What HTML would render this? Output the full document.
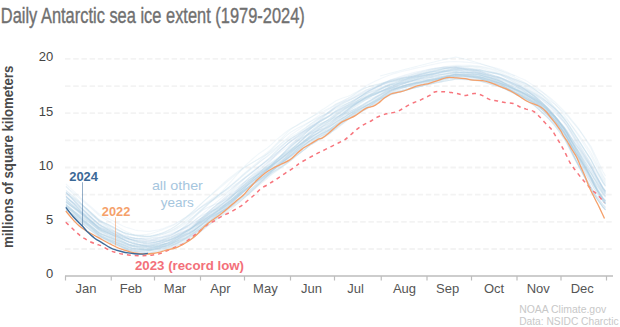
<!DOCTYPE html>
<html><head><meta charset="utf-8"><style>html,body{margin:0;padding:0;background:#fff;width:620px;height:327px;overflow:hidden}</style></head>
<body><svg width="620" height="327" viewBox="0 0 620 327" style="display:block">
<text x="0.8" y="23.2" font-family="Liberation Sans, sans-serif" font-size="22.5" fill="#707070" stroke="#707070" stroke-width="0.4" textLength="304" lengthAdjust="spacingAndGlyphs">Daily Antarctic sea ice extent (1979-2024)</text>
<text transform="translate(12.6,248) rotate(-90)" x="0" y="0" font-family="Liberation Sans, sans-serif" font-size="14" font-weight="bold" fill="#4a4a4a" textLength="182.3" lengthAdjust="spacingAndGlyphs">millions of square kilometers</text>
<line x1="65" y1="249.0" x2="613" y2="249.0" stroke="#f3f3f3" stroke-width="1.8" stroke-dasharray="5.5,2.7"/>
<line x1="65" y1="221.8" x2="613" y2="221.8" stroke="#f3f3f3" stroke-width="1.8" stroke-dasharray="5.5,2.7"/>
<line x1="65" y1="194.7" x2="613" y2="194.7" stroke="#f3f3f3" stroke-width="1.8" stroke-dasharray="5.5,2.7"/>
<line x1="65" y1="167.5" x2="613" y2="167.5" stroke="#f3f3f3" stroke-width="1.8" stroke-dasharray="5.5,2.7"/>
<line x1="65" y1="140.4" x2="613" y2="140.4" stroke="#f3f3f3" stroke-width="1.8" stroke-dasharray="5.5,2.7"/>
<line x1="65" y1="113.2" x2="613" y2="113.2" stroke="#f3f3f3" stroke-width="1.8" stroke-dasharray="5.5,2.7"/>
<line x1="65" y1="86.1" x2="613" y2="86.1" stroke="#f3f3f3" stroke-width="1.8" stroke-dasharray="5.5,2.7"/>
<line x1="65" y1="58.9" x2="613" y2="58.9" stroke="#f3f3f3" stroke-width="1.8" stroke-dasharray="5.5,2.7"/>
<text x="53.2" y="278.4" font-family="Liberation Sans, sans-serif" font-size="13" fill="#444" text-anchor="end">0</text>
<text x="53.2" y="224.1" font-family="Liberation Sans, sans-serif" font-size="13" fill="#444" text-anchor="end">5</text>
<text x="53.2" y="169.8" font-family="Liberation Sans, sans-serif" font-size="13" fill="#444" text-anchor="end">10</text>
<text x="53.2" y="115.5" font-family="Liberation Sans, sans-serif" font-size="13" fill="#444" text-anchor="end">15</text>
<text x="53.2" y="61.2" font-family="Liberation Sans, sans-serif" font-size="13" fill="#444" text-anchor="end">20</text>
<g fill="none" stroke="#a9cbe2" stroke-width="1.1" stroke-opacity="0.21">
<path d="M66.0,184.0 L69.0,186.8 L72.0,189.6 L75.0,192.4 L78.0,195.2 L81.0,198.1 L84.0,200.7 L87.0,203.3 L90.0,205.9 L93.0,208.5 L96.0,211.1 L99.0,213.7 L102.0,215.6 L105.0,217.1 L108.0,218.6 L111.0,220.1 L114.0,221.6 L117.0,223.1 L120.0,224.6 L123.0,226.1 L126.0,227.3 L129.0,228.1 L132.0,229.0 L135.0,230.0 L138.0,230.6 L141.0,230.8 L144.0,231.1 L147.0,231.4 L150.0,231.4 L153.0,230.8 L156.0,230.2 L159.0,229.7 L162.0,228.9 L165.0,227.8 L168.0,226.6 L171.0,225.5 L174.0,224.3 L177.0,222.6 L180.0,220.9 L183.0,219.0 L186.0,217.1 L189.0,215.2 L192.0,213.3 L195.0,211.2 L198.0,209.1 L201.0,207.1 L204.0,205.1 L207.0,203.2 L210.0,201.1 L213.0,199.1 L216.0,197.1 L219.0,195.0 L222.0,192.8 L225.0,190.5 L228.0,188.2 L231.0,185.7 L234.0,183.1 L237.0,180.5 L240.0,177.9 L243.0,175.2 L246.0,172.7 L249.0,170.3 L252.0,167.9 L255.0,165.6 L258.0,163.2 L261.0,160.8 L264.0,158.5 L267.0,156.1 L270.0,153.6 L273.0,150.8 L276.0,148.1 L279.0,145.4 L282.0,142.7 L285.0,140.0 L288.0,137.3 L291.0,134.8 L294.0,132.8 L297.0,130.7 L300.0,128.7 L303.0,126.6 L306.0,124.6 L309.0,122.5 L312.0,120.4 L315.0,118.3 L318.0,116.2 L321.0,114.2 L324.0,112.3 L327.0,110.4 L330.0,108.5 L333.0,106.4 L336.0,104.2 L339.0,102.7 L342.0,101.2 L345.0,99.7 L348.0,98.3 L351.0,96.6 L354.0,94.5 L357.0,92.4 L360.0,90.3 L363.0,88.2 L366.0,86.0 L369.0,84.3 L372.0,82.8 L375.0,81.3 L378.0,79.9 L381.0,78.5 L384.0,77.2 L387.0,76.0 L390.0,74.9 L393.0,73.9 L396.0,73.1 L399.0,72.3 L402.0,71.5 L405.0,70.8 L408.0,70.1 L411.0,69.4 L414.0,68.6 L417.0,67.9 L420.0,67.3 L423.0,66.6 L426.0,65.9 L429.0,65.2 L432.0,64.6 L435.0,64.0 L438.0,63.4 L441.0,62.8 L444.0,62.2 L447.0,61.9 L450.0,61.8 L453.0,61.6 L456.0,61.5 L459.0,61.7 L462.0,61.9 L465.0,62.1 L468.0,62.4 L471.0,62.6 L474.0,63.1 L477.0,63.5 L480.0,64.0 L483.0,64.8 L486.0,65.5 L489.0,66.2 L492.0,67.0 L495.0,67.8 L498.0,68.5 L501.0,69.4 L504.0,70.8 L507.0,72.1 L510.0,73.4 L513.0,74.7 L516.0,76.0 L519.0,77.4 L522.0,78.7 L525.0,80.0 L528.0,81.9 L531.0,83.9 L534.0,85.8 L537.0,87.8 L540.0,90.0 L543.0,92.5 L546.0,95.3 L549.0,98.2 L552.0,101.1 L555.0,104.1 L558.0,107.6 L561.0,111.1 L564.0,114.7 L567.0,118.5 L570.0,123.0 L573.0,127.6 L576.0,132.2 L579.0,136.7 L582.0,141.4 L585.0,146.1 L588.0,150.7 L591.0,155.4 L594.0,161.5 L597.0,167.3 L600.0,173.0 L603.0,178.7 L605.5,182.4" stroke-opacity="0.15"/>
<path d="M66.0,186.4 L69.0,189.6 L72.0,193.0 L75.0,196.3 L78.0,199.7 L81.0,203.1 L84.0,206.3 L87.0,209.5 L90.0,212.7 L93.0,215.8 L96.0,218.9 L99.0,221.9 L102.0,224.2 L105.0,226.0 L108.0,227.7 L111.0,229.3 L114.0,230.8 L117.0,232.3 L120.0,233.7 L123.0,235.1 L126.0,236.2 L129.0,237.1 L132.0,237.7 L135.0,238.1 L138.0,238.3 L141.0,238.3 L144.0,238.3 L147.0,238.3 L150.0,238.1 L153.0,237.2 L156.0,236.4 L159.0,235.5 L162.0,234.6 L165.0,233.4 L168.0,232.2 L171.0,230.9 L174.0,229.5 L177.0,227.7 L180.0,225.9 L183.0,223.9 L186.0,222.0 L189.0,220.0 L192.0,217.8 L195.0,215.3 L198.0,212.9 L201.0,210.4 L204.0,207.9 L207.0,205.3 L210.0,202.6 L213.0,200.0 L216.0,197.2 L219.0,194.4 L222.0,191.4 L225.0,188.2 L228.0,184.9 L231.0,181.6 L234.0,178.2 L237.0,174.8 L240.0,171.4 L243.0,168.0 L246.0,164.9 L249.0,162.1 L252.0,159.5 L255.0,156.9 L258.0,154.4 L261.0,152.3 L264.0,150.2 L267.0,148.1 L270.0,145.8 L273.0,142.9 L276.0,140.1 L279.0,137.6 L282.0,135.2 L285.0,132.8 L288.0,130.5 L291.0,128.4 L294.0,126.9 L297.0,125.4 L300.0,123.8 L303.0,122.1 L306.0,120.4 L309.0,118.6 L312.0,116.6 L315.0,114.6 L318.0,112.5 L321.0,110.5 L324.0,108.7 L327.0,106.8 L330.0,104.8 L333.0,102.8 L336.0,100.7 L339.0,99.5 L342.0,98.3 L345.0,97.2 L348.0,96.2 L351.0,94.9 L354.0,93.3 L357.0,91.7 L360.0,90.2 L363.0,88.7 L366.0,87.4 L369.0,86.5 L372.0,85.8 L375.0,85.1 L378.0,84.5 L381.0,83.8 L384.0,83.1 L387.0,82.5 L390.0,81.8 L393.0,81.4 L396.0,81.0 L399.0,80.6 L402.0,80.1 L405.0,79.5 L408.0,78.9 L411.0,78.3 L414.0,77.6 L417.0,76.9 L420.0,76.1 L423.0,75.3 L426.0,74.4 L429.0,73.5 L432.0,72.6 L435.0,71.7 L438.0,70.8 L441.0,69.8 L444.0,68.9 L447.0,68.1 L450.0,67.5 L453.0,67.0 L456.0,66.4 L459.0,66.4 L462.0,66.5 L465.0,66.5 L468.0,66.6 L471.0,66.8 L474.0,67.2 L477.0,67.6 L480.0,68.0 L483.0,68.8 L486.0,69.6 L489.0,70.5 L492.0,71.3 L495.0,72.1 L498.0,72.9 L501.0,73.9 L504.0,75.2 L507.0,76.5 L510.0,77.7 L513.0,78.9 L516.0,80.0 L519.0,81.1 L522.0,82.2 L525.0,83.2 L528.0,84.8 L531.0,86.3 L534.0,87.8 L537.0,89.4 L540.0,90.9 L543.0,92.7 L546.0,94.8 L549.0,97.0 L552.0,99.5 L555.0,102.0 L558.0,105.0 L561.0,108.0 L564.0,111.0 L567.0,114.0 L570.0,117.8 L573.0,121.5 L576.0,125.2 L579.0,129.1 L582.0,133.8 L585.0,138.5 L588.0,143.5 L591.0,148.5 L594.0,155.3 L597.0,162.1 L600.0,168.7 L603.0,175.2 L605.5,179.6" stroke-opacity="0.16"/>
<path d="M66.0,192.6 L69.0,194.9 L72.0,197.2 L75.0,199.5 L78.0,201.8 L81.0,204.2 L84.0,206.6 L87.0,208.9 L90.0,211.4 L93.0,214.0 L96.0,216.6 L99.0,219.3 L102.0,221.3 L105.0,223.0 L108.0,224.6 L111.0,226.2 L114.0,227.8 L117.0,229.3 L120.0,230.7 L123.0,232.1 L126.0,233.1 L129.0,233.9 L132.0,234.4 L135.0,234.7 L138.0,234.9 L141.0,234.7 L144.0,234.5 L147.0,234.4 L150.0,233.9 L153.0,232.9 L156.0,232.0 L159.0,231.1 L162.0,230.1 L165.0,228.8 L168.0,227.5 L171.0,226.3 L174.0,224.9 L177.0,223.1 L180.0,221.3 L183.0,219.1 L186.0,217.0 L189.0,214.7 L192.0,212.2 L195.0,209.6 L198.0,206.8 L201.0,204.0 L204.0,201.2 L207.0,198.4 L210.0,195.6 L213.0,192.9 L216.0,190.1 L219.0,187.4 L222.0,184.7 L225.0,182.0 L228.0,179.4 L231.0,176.9 L234.0,174.6 L237.0,172.3 L240.0,170.2 L243.0,168.1 L246.0,166.2 L249.0,164.6 L252.0,162.8 L255.0,161.0 L258.0,159.1 L261.0,157.1 L264.0,155.0 L267.0,152.7 L270.0,150.2 L273.0,147.2 L276.0,144.2 L279.0,141.1 L282.0,138.0 L285.0,134.9 L288.0,131.9 L291.0,129.2 L294.0,127.1 L297.0,125.2 L300.0,123.3 L303.0,121.6 L306.0,120.0 L309.0,118.3 L312.0,116.7 L315.0,115.1 L318.0,113.5 L321.0,112.1 L324.0,110.8 L327.0,109.3 L330.0,107.8 L333.0,106.0 L336.0,104.1 L339.0,102.8 L342.0,101.4 L345.0,100.0 L348.0,98.6 L351.0,97.0 L354.0,95.0 L357.0,93.1 L360.0,91.3 L363.0,89.5 L366.0,87.8 L369.0,86.7 L372.0,85.8 L375.0,84.9 L378.0,84.1 L381.0,83.3 L384.0,82.5 L387.0,81.7 L390.0,81.0 L393.0,80.5 L396.0,79.9 L399.0,79.2 L402.0,78.5 L405.0,77.8 L408.0,77.0 L411.0,76.1 L414.0,75.2 L417.0,74.3 L420.0,73.4 L423.0,72.5 L426.0,71.6 L429.0,70.8 L432.0,70.0 L435.0,69.4 L438.0,68.9 L441.0,68.4 L444.0,67.9 L447.0,67.8 L450.0,67.7 L453.0,67.7 L456.0,67.7 L459.0,68.1 L462.0,68.5 L465.0,68.9 L468.0,69.2 L471.0,69.5 L474.0,69.9 L477.0,70.2 L480.0,70.4 L483.0,71.0 L486.0,71.5 L489.0,72.0 L492.0,72.6 L495.0,73.1 L498.0,73.7 L501.0,74.5 L504.0,75.7 L507.0,77.0 L510.0,78.4 L513.0,79.8 L516.0,81.2 L519.0,82.8 L522.0,84.4 L525.0,86.0 L528.0,88.1 L531.0,90.1 L534.0,92.1 L537.0,94.3 L540.0,96.5 L543.0,98.7 L546.0,101.1 L549.0,103.6 L552.0,106.0 L555.0,108.3 L558.0,111.1 L561.0,114.0 L564.0,116.8 L567.0,119.8 L570.0,123.5 L573.0,127.3 L576.0,131.2 L579.0,135.1 L582.0,139.3 L585.0,143.6 L588.0,148.1 L591.0,152.7 L594.0,159.0 L597.0,165.1 L600.0,171.0 L603.0,176.9 L605.5,180.7" stroke-opacity="0.16"/>
<path d="M66.0,192.8 L69.0,195.4 L72.0,197.9 L75.0,200.5 L78.0,203.0 L81.0,205.6 L84.0,208.0 L87.0,210.4 L90.0,212.9 L93.0,215.3 L96.0,217.7 L99.0,220.2 L102.0,221.9 L105.0,223.3 L108.0,224.7 L111.0,226.1 L114.0,227.6 L117.0,229.0 L120.0,230.4 L123.0,231.9 L126.0,233.1 L129.0,234.1 L132.0,234.9 L135.0,235.7 L138.0,236.2 L141.0,236.4 L144.0,236.6 L147.0,236.8 L150.0,236.7 L153.0,236.0 L156.0,235.1 L159.0,234.3 L162.0,233.3 L165.0,231.9 L168.0,230.5 L171.0,229.0 L174.0,227.2 L177.0,225.0 L180.0,222.7 L183.0,220.1 L186.0,217.6 L189.0,214.9 L192.0,212.2 L195.0,209.4 L198.0,206.5 L201.0,203.8 L204.0,201.2 L207.0,198.6 L210.0,196.0 L213.0,193.5 L216.0,191.0 L219.0,188.6 L222.0,186.1 L225.0,183.5 L228.0,181.0 L231.0,178.5 L234.0,176.0 L237.0,173.6 L240.0,171.2 L243.0,168.8 L246.0,166.8 L249.0,164.9 L252.0,163.1 L255.0,161.3 L258.0,159.5 L261.0,157.7 L264.0,156.0 L267.0,154.2 L270.0,152.2 L273.0,150.0 L276.0,147.7 L279.0,145.5 L282.0,143.3 L285.0,141.0 L288.0,138.8 L291.0,136.7 L294.0,134.9 L297.0,133.1 L300.0,131.2 L303.0,129.3 L306.0,127.4 L309.0,125.3 L312.0,123.3 L315.0,121.3 L318.0,119.3 L321.0,117.4 L324.0,115.5 L327.0,113.7 L330.0,111.8 L333.0,109.6 L336.0,107.4 L339.0,105.8 L342.0,104.3 L345.0,102.8 L348.0,101.3 L351.0,99.6 L354.0,97.8 L357.0,95.9 L360.0,94.0 L363.0,92.2 L366.0,90.3 L369.0,88.9 L372.0,87.6 L375.0,86.3 L378.0,85.0 L381.0,83.8 L384.0,82.5 L387.0,81.4 L390.0,80.3 L393.0,79.5 L396.0,78.7 L399.0,77.9 L402.0,77.1 L405.0,76.3 L408.0,75.6 L411.0,74.8 L414.0,74.1 L417.0,73.4 L420.0,72.7 L423.0,71.9 L426.0,71.2 L429.0,70.4 L432.0,69.7 L435.0,69.0 L438.0,68.3 L441.0,67.6 L444.0,66.9 L447.0,66.4 L450.0,66.0 L453.0,65.6 L456.0,65.2 L459.0,65.2 L462.0,65.3 L465.0,65.3 L468.0,65.3 L471.0,65.4 L474.0,65.7 L477.0,65.9 L480.0,66.2 L483.0,66.8 L486.0,67.4 L489.0,68.1 L492.0,68.8 L495.0,69.4 L498.0,70.2 L501.0,71.1 L504.0,72.4 L507.0,73.8 L510.0,75.2 L513.0,76.6 L516.0,78.0 L519.0,79.5 L522.0,81.0 L525.0,82.6 L528.0,84.7 L531.0,86.8 L534.0,89.0 L537.0,91.3 L540.0,93.6 L543.0,96.2 L546.0,99.1 L549.0,102.0 L552.0,105.1 L555.0,108.1 L558.0,111.7 L561.0,115.4 L564.0,119.1 L567.0,123.1 L570.0,127.8 L573.0,132.6 L576.0,137.3 L579.0,141.8 L582.0,146.5 L585.0,151.1 L588.0,155.7 L591.0,160.3 L594.0,166.1 L597.0,171.6 L600.0,176.9 L603.0,182.2 L605.5,185.7" stroke-opacity="0.16"/>
<path d="M66.0,186.5 L69.0,189.1 L72.0,191.6 L75.0,194.2 L78.0,196.8 L81.0,199.5 L84.0,202.0 L87.0,204.6 L90.0,207.2 L93.0,209.8 L96.0,212.5 L99.0,215.2 L102.0,217.3 L105.0,219.1 L108.0,220.8 L111.0,222.6 L114.0,224.5 L117.0,226.3 L120.0,228.1 L123.0,229.9 L126.0,231.5 L129.0,232.7 L132.0,233.9 L135.0,234.9 L138.0,235.6 L141.0,235.9 L144.0,236.3 L147.0,236.6 L150.0,236.5 L153.0,235.8 L156.0,235.0 L159.0,234.1 L162.0,233.1 L165.0,231.7 L168.0,230.3 L171.0,228.8 L174.0,227.1 L177.0,225.0 L180.0,222.9 L183.0,220.7 L186.0,218.4 L189.0,216.3 L192.0,214.0 L195.0,211.8 L198.0,209.6 L201.0,207.5 L204.0,205.6 L207.0,203.8 L210.0,202.0 L213.0,200.2 L216.0,198.5 L219.0,196.8 L222.0,195.0 L225.0,193.1 L228.0,191.1 L231.0,189.1 L234.0,186.8 L237.0,184.5 L240.0,182.1 L243.0,179.7 L246.0,177.2 L249.0,174.9 L252.0,172.5 L255.0,170.0 L258.0,167.5 L261.0,165.0 L264.0,162.5 L267.0,159.9 L270.0,157.3 L273.0,154.5 L276.0,151.7 L279.0,149.0 L282.0,146.3 L285.0,143.7 L288.0,141.1 L291.0,138.8 L294.0,136.8 L297.0,134.9 L300.0,133.0 L303.0,131.2 L306.0,129.4 L309.0,127.6 L312.0,125.8 L315.0,124.2 L318.0,122.6 L321.0,121.0 L324.0,119.6 L327.0,118.0 L330.0,116.4 L333.0,114.4 L336.0,112.2 L339.0,110.5 L342.0,108.8 L345.0,107.0 L348.0,105.2 L351.0,103.3 L354.0,101.2 L357.0,99.2 L360.0,97.1 L363.0,95.0 L366.0,93.0 L369.0,91.2 L372.0,89.6 L375.0,88.1 L378.0,86.6 L381.0,85.2 L384.0,83.8 L387.0,82.5 L390.0,81.4 L393.0,80.6 L396.0,79.8 L399.0,79.1 L402.0,78.4 L405.0,77.7 L408.0,77.1 L411.0,76.4 L414.0,75.8 L417.0,75.2 L420.0,74.6 L423.0,73.9 L426.0,73.2 L429.0,72.5 L432.0,71.8 L435.0,71.1 L438.0,70.3 L441.0,69.5 L444.0,68.7 L447.0,68.1 L450.0,67.5 L453.0,66.9 L456.0,66.4 L459.0,66.3 L462.0,66.2 L465.0,66.2 L468.0,66.1 L471.0,66.2 L474.0,66.4 L477.0,66.6 L480.0,66.9 L483.0,67.6 L486.0,68.3 L489.0,69.0 L492.0,69.8 L495.0,70.6 L498.0,71.5 L501.0,72.5 L504.0,74.0 L507.0,75.4 L510.0,76.9 L513.0,78.4 L516.0,79.8 L519.0,81.2 L522.0,82.6 L525.0,84.1 L528.0,85.9 L531.0,87.8 L534.0,89.5 L537.0,91.4 L540.0,93.3 L543.0,95.3 L546.0,97.6 L549.0,99.9 L552.0,102.2 L555.0,104.4 L558.0,107.2 L561.0,109.9 L564.0,112.7 L567.0,115.5 L570.0,119.0 L573.0,122.6 L576.0,126.2 L579.0,129.9 L582.0,133.9 L585.0,138.0 L588.0,142.2 L591.0,146.5 L594.0,152.8 L597.0,159.1 L600.0,165.4 L603.0,171.7 L605.5,176.0" stroke-opacity="0.17"/>
<path d="M66.0,192.3 L69.0,194.8 L72.0,197.2 L75.0,199.6 L78.0,202.1 L81.0,204.5 L84.0,206.9 L87.0,209.3 L90.0,211.8 L93.0,214.4 L96.0,217.1 L99.0,219.8 L102.0,221.8 L105.0,223.4 L108.0,225.0 L111.0,226.6 L114.0,228.2 L117.0,229.7 L120.0,231.1 L123.0,232.5 L126.0,233.5 L129.0,234.3 L132.0,234.9 L135.0,235.4 L138.0,235.7 L141.0,235.8 L144.0,235.9 L147.0,236.0 L150.0,236.0 L153.0,235.3 L156.0,234.7 L159.0,234.1 L162.0,233.4 L165.0,232.4 L168.0,231.4 L171.0,230.3 L174.0,228.9 L177.0,227.0 L180.0,225.1 L183.0,222.8 L186.0,220.5 L189.0,218.0 L192.0,215.4 L195.0,212.6 L198.0,209.8 L201.0,207.2 L204.0,204.7 L207.0,202.4 L210.0,200.1 L213.0,198.0 L216.0,196.0 L219.0,194.1 L222.0,192.1 L225.0,190.1 L228.0,188.0 L231.0,185.9 L234.0,183.5 L237.0,181.1 L240.0,178.6 L243.0,175.9 L246.0,173.4 L249.0,170.9 L252.0,168.4 L255.0,165.9 L258.0,163.5 L261.0,161.1 L264.0,158.8 L267.0,156.7 L270.0,154.4 L273.0,152.0 L276.0,149.6 L279.0,147.3 L282.0,145.1 L285.0,142.9 L288.0,140.6 L291.0,138.4 L294.0,136.5 L297.0,134.4 L300.0,132.3 L303.0,130.0 L306.0,127.7 L309.0,125.3 L312.0,122.9 L315.0,120.6 L318.0,118.4 L321.0,116.3 L324.0,114.4 L327.0,112.7 L330.0,111.1 L333.0,109.3 L336.0,107.5 L339.0,106.5 L342.0,105.4 L345.0,104.3 L348.0,103.1 L351.0,101.8 L354.0,100.2 L357.0,98.5 L360.0,96.7 L363.0,94.9 L366.0,93.0 L369.0,91.3 L372.0,89.8 L375.0,88.3 L378.0,86.9 L381.0,85.5 L384.0,84.2 L387.0,83.0 L390.0,82.0 L393.0,81.3 L396.0,80.6 L399.0,80.0 L402.0,79.4 L405.0,78.8 L408.0,78.1 L411.0,77.5 L414.0,76.8 L417.0,76.0 L420.0,75.2 L423.0,74.4 L426.0,73.5 L429.0,72.6 L432.0,71.8 L435.0,71.0 L438.0,70.3 L441.0,69.6 L444.0,68.9 L447.0,68.6 L450.0,68.4 L453.0,68.2 L456.0,68.0 L459.0,68.4 L462.0,68.8 L465.0,69.1 L468.0,69.5 L471.0,69.8 L474.0,70.1 L477.0,70.4 L480.0,70.7 L483.0,71.3 L486.0,72.0 L489.0,72.6 L492.0,73.2 L495.0,73.8 L498.0,74.4 L501.0,75.3 L504.0,76.7 L507.0,78.1 L510.0,79.5 L513.0,81.0 L516.0,82.5 L519.0,84.1 L522.0,85.7 L525.0,87.3 L528.0,89.2 L531.0,91.1 L534.0,93.0 L537.0,95.0 L540.0,97.0 L543.0,99.2 L546.0,101.5 L549.0,104.0 L552.0,106.5 L555.0,109.1 L558.0,112.2 L561.0,115.4 L564.0,118.8 L567.0,122.5 L570.0,127.0 L573.0,131.6 L576.0,136.2 L579.0,140.8 L582.0,145.5 L585.0,150.2 L588.0,154.7 L591.0,159.2 L594.0,164.9 L597.0,170.2 L600.0,175.3 L603.0,180.3 L605.5,183.6" stroke-opacity="0.18"/>
<path d="M66.0,190.3 L69.0,192.8 L72.0,195.3 L75.0,198.0 L78.0,200.7 L81.0,203.6 L84.0,206.4 L87.0,209.2 L90.0,212.1 L93.0,215.0 L96.0,217.9 L99.0,220.8 L102.0,222.9 L105.0,224.5 L108.0,226.1 L111.0,227.6 L114.0,229.0 L117.0,230.3 L120.0,231.6 L123.0,232.8 L126.0,233.7 L129.0,234.5 L132.0,235.0 L135.0,235.5 L138.0,235.8 L141.0,235.9 L144.0,236.1 L147.0,236.4 L150.0,236.4 L153.0,235.9 L156.0,235.4 L159.0,235.0 L162.0,234.5 L165.0,233.7 L168.0,232.8 L171.0,231.9 L174.0,230.7 L177.0,229.0 L180.0,227.3 L183.0,225.2 L186.0,223.0 L189.0,220.7 L192.0,218.1 L195.0,215.3 L198.0,212.4 L201.0,209.6 L204.0,206.9 L207.0,204.3 L210.0,201.8 L213.0,199.5 L216.0,197.3 L219.0,195.3 L222.0,193.2 L225.0,191.2 L228.0,189.3 L231.0,187.4 L234.0,185.4 L237.0,183.4 L240.0,181.4 L243.0,179.2 L246.0,177.1 L249.0,175.0 L252.0,172.8 L255.0,170.4 L258.0,167.9 L261.0,165.4 L264.0,162.8 L267.0,160.1 L270.0,157.4 L273.0,154.4 L276.0,151.5 L279.0,148.7 L282.0,146.0 L285.0,143.4 L288.0,140.9 L291.0,138.8 L294.0,137.0 L297.0,135.3 L300.0,133.6 L303.0,131.9 L306.0,130.3 L309.0,128.5 L312.0,126.8 L315.0,125.1 L318.0,123.3 L321.0,121.4 L324.0,119.5 L327.0,117.6 L330.0,115.5 L333.0,113.0 L336.0,110.4 L339.0,108.5 L342.0,106.6 L345.0,104.8 L348.0,103.1 L351.0,101.4 L354.0,99.6 L357.0,97.9 L360.0,96.4 L363.0,94.9 L366.0,93.5 L369.0,92.4 L372.0,91.4 L375.0,90.4 L378.0,89.4 L381.0,88.2 L384.0,87.0 L387.0,85.8 L390.0,84.5 L393.0,83.6 L396.0,82.6 L399.0,81.5 L402.0,80.4 L405.0,79.3 L408.0,78.2 L411.0,77.2 L414.0,76.2 L417.0,75.2 L420.0,74.4 L423.0,73.6 L426.0,72.9 L429.0,72.3 L432.0,71.8 L435.0,71.3 L438.0,71.0 L441.0,70.6 L444.0,70.2 L447.0,70.0 L450.0,69.9 L453.0,69.7 L456.0,69.4 L459.0,69.6 L462.0,69.7 L465.0,69.8 L468.0,69.8 L471.0,69.9 L474.0,70.0 L477.0,70.0 L480.0,70.1 L483.0,70.7 L486.0,71.3 L489.0,71.9 L492.0,72.6 L495.0,73.4 L498.0,74.2 L501.0,75.3 L504.0,76.8 L507.0,78.4 L510.0,80.0 L513.0,81.6 L516.0,83.2 L519.0,84.7 L522.0,86.3 L525.0,87.9 L528.0,89.7 L531.0,91.5 L534.0,93.3 L537.0,95.2 L540.0,97.1 L543.0,99.1 L546.0,101.4 L549.0,103.7 L552.0,106.2 L555.0,108.6 L558.0,111.7 L561.0,114.9 L564.0,118.2 L567.0,121.8 L570.0,126.3 L573.0,131.0 L576.0,135.7 L579.0,140.3 L582.0,145.2 L585.0,150.1 L588.0,155.0 L591.0,159.8 L594.0,165.8 L597.0,171.4 L600.0,176.6 L603.0,181.8 L605.5,185.1" stroke-opacity="0.18"/>
<path d="M66.0,191.8 L69.0,195.1 L72.0,198.3 L75.0,201.5 L78.0,204.7 L81.0,207.8 L84.0,210.7 L87.0,213.6 L90.0,216.4 L93.0,219.1 L96.0,221.8 L99.0,224.5 L102.0,226.3 L105.0,227.8 L108.0,229.2 L111.0,230.6 L114.0,232.0 L117.0,233.5 L120.0,234.9 L123.0,236.4 L126.0,237.7 L129.0,239.0 L132.0,239.9 L135.0,240.7 L138.0,241.3 L141.0,241.8 L144.0,242.2 L147.0,242.7 L150.0,243.0 L153.0,242.4 L156.0,241.9 L159.0,241.3 L162.0,240.5 L165.0,239.4 L168.0,238.3 L171.0,236.9 L174.0,235.1 L177.0,233.0 L180.0,230.8 L183.0,228.3 L186.0,225.8 L189.0,223.2 L192.0,220.2 L195.0,217.1 L198.0,214.0 L201.0,211.0 L204.0,208.2 L207.0,205.4 L210.0,202.7 L213.0,200.2 L216.0,197.7 L219.0,195.2 L222.0,192.7 L225.0,190.2 L228.0,187.7 L231.0,185.2 L234.0,182.6 L237.0,179.9 L240.0,177.3 L243.0,174.5 L246.0,171.9 L249.0,169.5 L252.0,166.9 L255.0,164.4 L258.0,161.8 L261.0,159.2 L264.0,156.7 L267.0,154.1 L270.0,151.4 L273.0,148.4 L276.0,145.4 L279.0,142.5 L282.0,139.7 L285.0,136.9 L288.0,134.3 L291.0,132.0 L294.0,130.2 L297.0,128.5 L300.0,126.9 L303.0,125.4 L306.0,123.8 L309.0,122.2 L312.0,120.7 L315.0,119.2 L318.0,117.7 L321.0,116.3 L324.0,115.0 L327.0,113.7 L330.0,112.3 L333.0,110.6 L336.0,108.8 L339.0,107.5 L342.0,106.2 L345.0,104.8 L348.0,103.5 L351.0,102.0 L354.0,100.3 L357.0,98.7 L360.0,97.1 L363.0,95.6 L366.0,94.1 L369.0,92.9 L372.0,91.8 L375.0,90.8 L378.0,89.7 L381.0,88.7 L384.0,87.6 L387.0,86.6 L390.0,85.5 L393.0,84.9 L396.0,84.3 L399.0,83.6 L402.0,82.9 L405.0,82.2 L408.0,81.4 L411.0,80.5 L414.0,79.7 L417.0,78.8 L420.0,77.8 L423.0,76.9 L426.0,75.9 L429.0,74.8 L432.0,73.9 L435.0,73.0 L438.0,72.1 L441.0,71.2 L444.0,70.3 L447.0,69.6 L450.0,69.1 L453.0,68.6 L456.0,68.2 L459.0,68.3 L462.0,68.4 L465.0,68.6 L468.0,68.8 L471.0,69.0 L474.0,69.3 L477.0,69.6 L480.0,69.9 L483.0,70.6 L486.0,71.2 L489.0,71.9 L492.0,72.4 L495.0,73.0 L498.0,73.5 L501.0,74.2 L504.0,75.3 L507.0,76.3 L510.0,77.4 L513.0,78.5 L516.0,79.6 L519.0,80.7 L522.0,81.9 L525.0,83.2 L528.0,85.0 L531.0,86.9 L534.0,88.9 L537.0,91.0 L540.0,93.2 L543.0,95.7 L546.0,98.5 L549.0,101.5 L552.0,104.5 L555.0,107.6 L558.0,111.2 L561.0,114.9 L564.0,118.6 L567.0,122.7 L570.0,127.4 L573.0,132.2 L576.0,136.8 L579.0,141.3 L582.0,145.9 L585.0,150.5 L588.0,155.1 L591.0,159.8 L594.0,165.7 L597.0,171.4 L600.0,177.0 L603.0,182.6 L605.5,186.5" stroke-opacity="0.18"/>
<path d="M66.0,193.4 L69.0,196.3 L72.0,199.2 L75.0,202.1 L78.0,205.0 L81.0,207.9 L84.0,210.6 L87.0,213.3 L90.0,216.0 L93.0,218.6 L96.0,221.2 L99.0,223.7 L102.0,225.5 L105.0,226.9 L108.0,228.2 L111.0,229.6 L114.0,230.9 L117.0,232.2 L120.0,233.5 L123.0,234.9 L126.0,236.0 L129.0,237.0 L132.0,237.7 L135.0,238.4 L138.0,238.8 L141.0,239.1 L144.0,239.4 L147.0,239.7 L150.0,239.8 L153.0,239.3 L156.0,238.7 L159.0,238.2 L162.0,237.5 L165.0,236.6 L168.0,235.7 L171.0,234.8 L174.0,233.5 L177.0,231.9 L180.0,230.3 L183.0,228.5 L186.0,226.6 L189.0,224.8 L192.0,222.6 L195.0,220.1 L198.0,217.6 L201.0,215.1 L204.0,212.6 L207.0,210.1 L210.0,207.5 L213.0,205.1 L216.0,202.6 L219.0,200.1 L222.0,197.6 L225.0,194.9 L228.0,192.3 L231.0,189.7 L234.0,186.9 L237.0,184.1 L240.0,181.4 L243.0,178.8 L246.0,176.3 L249.0,174.0 L252.0,171.7 L255.0,169.5 L258.0,167.2 L261.0,165.1 L264.0,162.9 L267.0,160.7 L270.0,158.4 L273.0,156.0 L276.0,153.5 L279.0,151.1 L282.0,148.6 L285.0,146.1 L288.0,143.5 L291.0,141.1 L294.0,138.8 L297.0,136.6 L300.0,134.2 L303.0,131.9 L306.0,129.5 L309.0,127.0 L312.0,124.6 L315.0,122.3 L318.0,120.0 L321.0,117.7 L324.0,115.6 L327.0,113.5 L330.0,111.4 L333.0,109.0 L336.0,106.8 L339.0,105.2 L342.0,103.7 L345.0,102.3 L348.0,100.9 L351.0,99.4 L354.0,97.8 L357.0,96.1 L360.0,94.5 L363.0,92.9 L366.0,91.3 L369.0,90.1 L372.0,89.0 L375.0,87.9 L378.0,86.8 L381.0,85.6 L384.0,84.5 L387.0,83.4 L390.0,82.3 L393.0,81.5 L396.0,80.7 L399.0,79.9 L402.0,79.1 L405.0,78.2 L408.0,77.4 L411.0,76.6 L414.0,75.7 L417.0,74.9 L420.0,74.1 L423.0,73.3 L426.0,72.5 L429.0,71.7 L432.0,71.0 L435.0,70.4 L438.0,69.7 L441.0,69.1 L444.0,68.5 L447.0,68.2 L450.0,68.0 L453.0,67.8 L456.0,67.6 L459.0,67.9 L462.0,68.3 L465.0,68.7 L468.0,69.1 L471.0,69.5 L474.0,70.1 L477.0,70.6 L480.0,71.2 L483.0,72.2 L486.0,73.1 L489.0,74.1 L492.0,75.0 L495.0,75.9 L498.0,76.8 L501.0,77.9 L504.0,79.3 L507.0,80.7 L510.0,82.1 L513.0,83.4 L516.0,84.7 L519.0,86.1 L522.0,87.5 L525.0,88.9 L528.0,90.7 L531.0,92.5 L534.0,94.2 L537.0,96.3 L540.0,98.5 L543.0,100.9 L546.0,103.5 L549.0,106.3 L552.0,109.2 L555.0,112.1 L558.0,115.6 L561.0,119.3 L564.0,123.0 L567.0,127.3 L570.0,132.2 L573.0,137.2 L576.0,142.1 L579.0,146.9 L582.0,151.8 L585.0,156.7 L588.0,161.5 L591.0,166.4 L594.0,172.1 L597.0,177.5 L600.0,182.6 L603.0,187.6 L605.5,190.9" stroke-opacity="0.19"/>
<path d="M66.0,190.7 L69.0,193.2 L72.0,195.7 L75.0,198.3 L78.0,200.9 L81.0,203.6 L84.0,206.3 L87.0,209.0 L90.0,211.8 L93.0,214.7 L96.0,217.6 L99.0,220.6 L102.0,222.9 L105.0,224.8 L108.0,226.8 L111.0,228.7 L114.0,230.6 L117.0,232.4 L120.0,234.2 L123.0,235.9 L126.0,237.4 L129.0,238.7 L132.0,239.6 L135.0,240.3 L138.0,240.7 L141.0,240.9 L144.0,241.1 L147.0,241.2 L150.0,241.1 L153.0,240.3 L156.0,239.5 L159.0,238.7 L162.0,237.8 L165.0,236.6 L168.0,235.6 L171.0,234.5 L174.0,233.1 L177.0,231.6 L180.0,230.1 L183.0,228.6 L186.0,227.2 L189.0,225.8 L192.0,224.1 L195.0,222.3 L198.0,220.4 L201.0,218.5 L204.0,216.6 L207.0,214.7 L210.0,212.6 L213.0,210.6 L216.0,208.6 L219.0,206.4 L222.0,204.0 L225.0,201.5 L228.0,198.9 L231.0,196.1 L234.0,193.1 L237.0,190.0 L240.0,186.9 L243.0,183.8 L246.0,180.8 L249.0,178.0 L252.0,175.2 L255.0,172.5 L258.0,170.0 L261.0,167.5 L264.0,165.1 L267.0,162.8 L270.0,160.4 L273.0,158.0 L276.0,155.6 L279.0,153.3 L282.0,151.0 L285.0,148.7 L288.0,146.4 L291.0,144.2 L294.0,142.0 L297.0,139.8 L300.0,137.5 L303.0,135.1 L306.0,132.7 L309.0,130.0 L312.0,127.5 L315.0,124.9 L318.0,122.3 L321.0,119.7 L324.0,117.2 L327.0,114.6 L330.0,112.1 L333.0,109.3 L336.0,106.6 L339.0,104.7 L342.0,102.9 L345.0,101.3 L348.0,99.8 L351.0,98.2 L354.0,96.4 L357.0,94.7 L360.0,93.1 L363.0,91.5 L366.0,90.0 L369.0,88.9 L372.0,88.0 L375.0,87.0 L378.0,85.9 L381.0,84.9 L384.0,83.8 L387.0,82.7 L390.0,81.6 L393.0,80.7 L396.0,79.8 L399.0,78.8 L402.0,77.9 L405.0,76.9 L408.0,75.9 L411.0,74.9 L414.0,73.9 L417.0,73.0 L420.0,72.1 L423.0,71.2 L426.0,70.3 L429.0,69.6 L432.0,68.9 L435.0,68.4 L438.0,67.9 L441.0,67.5 L444.0,67.1 L447.0,67.0 L450.0,67.1 L453.0,67.2 L456.0,67.3 L459.0,67.9 L462.0,68.5 L465.0,69.1 L468.0,69.7 L471.0,70.2 L474.0,70.9 L477.0,71.5 L480.0,72.0 L483.0,72.9 L486.0,73.8 L489.0,74.6 L492.0,75.4 L495.0,76.2 L498.0,76.9 L501.0,77.8 L504.0,79.1 L507.0,80.4 L510.0,81.7 L513.0,83.0 L516.0,84.4 L519.0,85.8 L522.0,87.4 L525.0,89.1 L528.0,91.1 L531.0,93.2 L534.0,95.4 L537.0,97.9 L540.0,100.6 L543.0,103.5 L546.0,106.6 L549.0,109.9 L552.0,113.3 L555.0,116.7 L558.0,120.6 L561.0,124.7 L564.0,128.8 L567.0,133.5 L570.0,138.7 L573.0,143.8 L576.0,148.7 L579.0,153.1 L582.0,157.5 L585.0,161.8 L588.0,166.0 L591.0,170.1 L594.0,175.0 L597.0,179.6 L600.0,184.0 L603.0,188.6 L605.5,191.6" stroke-opacity="0.19"/>
<path d="M66.0,196.8 L69.0,199.8 L72.0,202.9 L75.0,205.9 L78.0,208.9 L81.0,211.8 L84.0,214.7 L87.0,217.5 L90.0,220.3 L93.0,223.0 L96.0,225.7 L99.0,228.3 L102.0,230.2 L105.0,231.6 L108.0,233.0 L111.0,234.4 L114.0,235.7 L117.0,237.0 L120.0,238.3 L123.0,239.5 L126.0,240.7 L129.0,241.7 L132.0,242.2 L135.0,242.6 L138.0,242.9 L141.0,243.0 L144.0,243.1 L147.0,243.3 L150.0,243.3 L153.0,242.5 L156.0,241.8 L159.0,241.1 L162.0,240.4 L165.0,239.4 L168.0,238.5 L171.0,237.5 L174.0,236.1 L177.0,234.6 L180.0,233.1 L183.0,231.5 L186.0,229.9 L189.0,228.3 L192.0,226.4 L195.0,224.2 L198.0,222.0 L201.0,219.9 L204.0,217.7 L207.0,215.5 L210.0,213.3 L213.0,211.3 L216.0,209.2 L219.0,207.0 L222.0,204.7 L225.0,202.4 L228.0,200.0 L231.0,197.4 L234.0,194.6 L237.0,191.7 L240.0,188.8 L243.0,185.9 L246.0,183.0 L249.0,180.1 L252.0,177.3 L255.0,174.5 L258.0,171.7 L261.0,168.9 L264.0,166.1 L267.0,163.3 L270.0,160.5 L273.0,157.5 L276.0,154.6 L279.0,151.8 L282.0,148.9 L285.0,146.1 L288.0,143.4 L291.0,140.8 L294.0,138.5 L297.0,136.3 L300.0,134.1 L303.0,131.9 L306.0,129.8 L309.0,127.7 L312.0,125.7 L315.0,123.8 L318.0,121.9 L321.0,120.1 L324.0,118.5 L327.0,116.8 L330.0,115.1 L333.0,113.0 L336.0,110.9 L339.0,109.3 L342.0,107.7 L345.0,106.1 L348.0,104.4 L351.0,102.7 L354.0,100.7 L357.0,98.8 L360.0,96.8 L363.0,94.8 L366.0,92.7 L369.0,91.0 L372.0,89.3 L375.0,87.7 L378.0,86.1 L381.0,84.5 L384.0,82.9 L387.0,81.5 L390.0,80.1 L393.0,79.0 L396.0,78.0 L399.0,76.9 L402.0,76.0 L405.0,75.1 L408.0,74.2 L411.0,73.4 L414.0,72.6 L417.0,71.9 L420.0,71.2 L423.0,70.6 L426.0,70.0 L429.0,69.4 L432.0,68.9 L435.0,68.4 L438.0,68.0 L441.0,67.6 L444.0,67.2 L447.0,67.0 L450.0,66.9 L453.0,66.8 L456.0,66.7 L459.0,67.0 L462.0,67.4 L465.0,67.7 L468.0,68.0 L471.0,68.3 L474.0,68.7 L477.0,69.1 L480.0,69.5 L483.0,70.2 L486.0,71.0 L489.0,71.7 L492.0,72.4 L495.0,73.1 L498.0,73.8 L501.0,74.7 L504.0,75.9 L507.0,77.2 L510.0,78.4 L513.0,79.7 L516.0,81.0 L519.0,82.3 L522.0,83.6 L525.0,85.0 L528.0,86.9 L531.0,88.9 L534.0,90.9 L537.0,93.0 L540.0,95.3 L543.0,97.8 L546.0,100.6 L549.0,103.6 L552.0,106.6 L555.0,109.7 L558.0,113.4 L561.0,117.3 L564.0,121.2 L567.0,125.5 L570.0,130.7 L573.0,135.9 L576.0,141.0 L579.0,146.1 L582.0,151.3 L585.0,156.4 L588.0,161.6 L591.0,166.7 L594.0,172.8 L597.0,178.4 L600.0,183.8 L603.0,189.0 L605.5,192.5" stroke-opacity="0.19"/>
<path d="M66.0,192.6 L69.0,195.6 L72.0,198.6 L75.0,201.6 L78.0,204.4 L81.0,207.2 L84.0,209.7 L87.0,212.0 L90.0,214.2 L93.0,216.3 L96.0,218.4 L99.0,220.5 L102.0,221.9 L105.0,223.0 L108.0,224.3 L111.0,225.7 L114.0,227.3 L117.0,229.0 L120.0,230.9 L123.0,232.8 L126.0,234.6 L129.0,236.2 L132.0,237.5 L135.0,238.6 L138.0,239.4 L141.0,239.8 L144.0,240.1 L147.0,240.3 L150.0,240.2 L153.0,239.3 L156.0,238.4 L159.0,237.5 L162.0,236.6 L165.0,235.4 L168.0,234.5 L171.0,233.6 L174.0,232.5 L177.0,231.3 L180.0,230.3 L183.0,229.2 L186.0,228.1 L189.0,227.0 L192.0,225.4 L195.0,223.4 L198.0,221.2 L201.0,218.8 L204.0,216.3 L207.0,213.6 L210.0,210.8 L213.0,208.2 L216.0,205.6 L219.0,203.0 L222.0,200.5 L225.0,198.2 L228.0,196.0 L231.0,194.0 L234.0,191.9 L237.0,189.9 L240.0,188.0 L243.0,186.0 L246.0,183.9 L249.0,181.8 L252.0,179.5 L255.0,177.0 L258.0,174.2 L261.0,171.3 L264.0,168.2 L267.0,165.0 L270.0,161.8 L273.0,158.4 L276.0,155.2 L279.0,152.1 L282.0,149.1 L285.0,146.3 L288.0,143.7 L291.0,141.4 L294.0,139.5 L297.0,137.6 L300.0,135.7 L303.0,133.6 L306.0,131.5 L309.0,129.2 L312.0,126.7 L315.0,124.3 L318.0,121.6 L321.0,118.8 L324.0,116.1 L327.0,113.4 L330.0,110.7 L333.0,107.9 L336.0,105.3 L339.0,103.7 L342.0,102.4 L345.0,101.2 L348.0,100.2 L351.0,99.1 L354.0,97.8 L357.0,96.5 L360.0,95.2 L363.0,93.8 L366.0,92.2 L369.0,90.8 L372.0,89.4 L375.0,87.9 L378.0,86.3 L381.0,84.7 L384.0,83.1 L387.0,81.7 L390.0,80.4 L393.0,79.5 L396.0,78.8 L399.0,78.2 L402.0,77.7 L405.0,77.4 L408.0,77.1 L411.0,76.9 L414.0,76.7 L417.0,76.5 L420.0,76.2 L423.0,75.8 L426.0,75.3 L429.0,74.6 L432.0,74.0 L435.0,73.3 L438.0,72.5 L441.0,71.8 L444.0,71.0 L447.0,70.5 L450.0,70.2 L453.0,70.0 L456.0,69.9 L459.0,70.4 L462.0,71.0 L465.0,71.7 L468.0,72.4 L471.0,73.1 L474.0,73.8 L477.0,74.4 L480.0,74.9 L483.0,75.9 L486.0,76.6 L489.0,77.3 L492.0,77.9 L495.0,78.4 L498.0,78.9 L501.0,79.7 L504.0,80.8 L507.0,82.0 L510.0,83.3 L513.0,84.8 L516.0,86.3 L519.0,87.9 L522.0,89.6 L525.0,91.5 L528.0,93.6 L531.0,95.6 L534.0,97.6 L537.0,99.8 L540.0,102.0 L543.0,104.1 L546.0,106.3 L549.0,108.6 L552.0,110.9 L555.0,113.2 L558.0,115.9 L561.0,118.9 L564.0,121.9 L567.0,125.5 L570.0,129.9 L573.0,134.4 L576.0,139.1 L579.0,143.8 L582.0,148.7 L585.0,153.7 L588.0,158.5 L591.0,163.2 L594.0,168.9 L597.0,173.9 L600.0,178.6 L603.0,183.2 L605.5,186.1" stroke-opacity="0.19"/>
<path d="M66.0,192.3 L69.0,195.3 L72.0,198.4 L75.0,201.5 L78.0,204.6 L81.0,207.8 L84.0,210.7 L87.0,213.6 L90.0,216.4 L93.0,219.2 L96.0,221.8 L99.0,224.4 L102.0,226.2 L105.0,227.5 L108.0,228.9 L111.0,230.3 L114.0,231.6 L117.0,233.0 L120.0,234.5 L123.0,236.1 L126.0,237.5 L129.0,238.9 L132.0,240.1 L135.0,241.1 L138.0,241.9 L141.0,242.7 L144.0,243.4 L147.0,244.0 L150.0,244.5 L153.0,244.2 L156.0,243.8 L159.0,243.3 L162.0,242.6 L165.0,241.7 L168.0,240.8 L171.0,239.6 L174.0,238.0 L177.0,236.3 L180.0,234.5 L183.0,232.7 L186.0,231.0 L189.0,229.3 L192.0,227.3 L195.0,225.2 L198.0,223.2 L201.0,221.2 L204.0,219.3 L207.0,217.4 L210.0,215.4 L213.0,213.6 L216.0,211.7 L219.0,209.7 L222.0,207.5 L225.0,205.2 L228.0,202.7 L231.0,200.0 L234.0,197.1 L237.0,194.1 L240.0,191.0 L243.0,188.0 L246.0,185.1 L249.0,182.4 L252.0,179.8 L255.0,177.3 L258.0,174.8 L261.0,172.5 L264.0,170.2 L267.0,168.0 L270.0,165.6 L273.0,163.3 L276.0,160.9 L279.0,158.5 L282.0,156.0 L285.0,153.3 L288.0,150.5 L291.0,147.6 L294.0,144.8 L297.0,141.9 L300.0,139.0 L303.0,136.1 L306.0,133.2 L309.0,130.3 L312.0,127.7 L315.0,125.3 L318.0,123.0 L321.0,120.9 L324.0,119.0 L327.0,117.2 L330.0,115.5 L333.0,113.4 L336.0,111.4 L339.0,109.9 L342.0,108.3 L345.0,106.6 L348.0,104.9 L351.0,103.1 L354.0,101.1 L357.0,99.0 L360.0,96.8 L363.0,94.6 L366.0,92.4 L369.0,90.6 L372.0,88.9 L375.0,87.3 L378.0,85.8 L381.0,84.4 L384.0,83.1 L387.0,82.0 L390.0,81.0 L393.0,80.3 L396.0,79.6 L399.0,79.0 L402.0,78.4 L405.0,77.8 L408.0,77.2 L411.0,76.5 L414.0,75.8 L417.0,75.1 L420.0,74.3 L423.0,73.5 L426.0,72.6 L429.0,71.8 L432.0,71.0 L435.0,70.3 L438.0,69.6 L441.0,69.0 L444.0,68.4 L447.0,68.1 L450.0,68.0 L453.0,68.0 L456.0,68.0 L459.0,68.5 L462.0,69.1 L465.0,69.6 L468.0,70.2 L471.0,70.8 L474.0,71.4 L477.0,71.9 L480.0,72.4 L483.0,73.3 L486.0,74.2 L489.0,75.0 L492.0,75.8 L495.0,76.6 L498.0,77.4 L501.0,78.4 L504.0,79.9 L507.0,81.4 L510.0,82.9 L513.0,84.6 L516.0,86.3 L519.0,88.0 L522.0,89.9 L525.0,91.9 L528.0,94.2 L531.0,96.4 L534.0,98.6 L537.0,101.2 L540.0,103.9 L543.0,106.6 L546.0,109.4 L549.0,112.4 L552.0,115.4 L555.0,118.4 L558.0,121.9 L561.0,125.7 L564.0,129.4 L567.0,133.9 L570.0,139.1 L573.0,144.3 L576.0,149.6 L579.0,154.7 L582.0,160.0 L585.0,165.3 L588.0,170.8 L591.0,176.3 L594.0,182.4 L597.0,187.8 L600.0,192.8 L603.0,197.6 L605.5,200.7" stroke-opacity="0.20"/>
<path d="M66.0,202.0 L69.0,204.4 L72.0,206.5 L75.0,208.4 L78.0,210.2 L81.0,212.0 L84.0,213.7 L87.0,215.4 L90.0,217.3 L93.0,219.5 L96.0,221.8 L99.0,224.4 L102.0,226.4 L105.0,228.1 L108.0,229.9 L111.0,231.7 L114.0,233.4 L117.0,235.0 L120.0,236.4 L123.0,237.5 L126.0,238.4 L129.0,238.9 L132.0,239.0 L135.0,238.9 L138.0,238.7 L141.0,238.4 L144.0,238.3 L147.0,238.3 L150.0,238.4 L153.0,237.9 L156.0,237.6 L159.0,237.4 L162.0,237.2 L165.0,236.7 L168.0,236.1 L171.0,235.2 L174.0,233.9 L177.0,232.0 L180.0,229.9 L183.0,227.4 L186.0,224.8 L189.0,222.1 L192.0,219.1 L195.0,216.2 L198.0,213.6 L201.0,211.3 L204.0,209.4 L207.0,207.8 L210.0,206.4 L213.0,205.2 L216.0,204.1 L219.0,203.0 L222.0,201.6 L225.0,199.9 L228.0,197.9 L231.0,195.6 L234.0,192.8 L237.0,189.8 L240.0,186.6 L243.0,183.5 L246.0,180.6 L249.0,178.0 L252.0,175.7 L255.0,173.7 L258.0,172.0 L261.0,170.5 L264.0,169.1 L267.0,167.8 L270.0,166.3 L273.0,164.7 L276.0,163.0 L279.0,161.1 L282.0,158.8 L285.0,156.2 L288.0,153.3 L291.0,150.3 L294.0,147.2 L297.0,144.2 L300.0,141.4 L303.0,138.7 L306.0,136.4 L309.0,134.3 L312.0,132.7 L315.0,131.4 L318.0,130.4 L321.0,129.5 L324.0,128.5 L327.0,127.4 L330.0,126.1 L333.0,123.8 L336.0,121.2 L339.0,118.6 L342.0,115.8 L345.0,113.0 L348.0,110.2 L351.0,107.6 L354.0,105.2 L357.0,103.0 L360.0,101.1 L363.0,99.4 L366.0,97.8 L369.0,96.7 L372.0,95.7 L375.0,94.7 L378.0,93.5 L381.0,92.2 L384.0,90.7 L387.0,89.1 L390.0,87.3 L393.0,85.9 L396.0,84.4 L399.0,82.8 L402.0,81.3 L405.0,79.9 L408.0,78.6 L411.0,77.4 L414.0,76.6 L417.0,75.9 L420.0,75.4 L423.0,75.0 L426.0,74.6 L429.0,74.3 L432.0,73.9 L435.0,73.5 L438.0,73.0 L441.0,72.3 L444.0,71.4 L447.0,70.6 L450.0,69.7 L453.0,68.9 L456.0,68.1 L459.0,67.9 L462.0,67.9 L465.0,68.0 L468.0,68.3 L471.0,68.8 L474.0,69.5 L477.0,70.4 L480.0,71.2 L483.0,72.5 L486.0,73.8 L489.0,74.9 L492.0,75.9 L495.0,76.7 L498.0,77.4 L501.0,78.1 L504.0,79.2 L507.0,80.3 L510.0,81.3 L513.0,82.5 L516.0,83.8 L519.0,85.3 L522.0,87.1 L525.0,89.1 L528.0,91.6 L531.0,94.1 L534.0,96.7 L537.0,99.6 L540.0,102.6 L543.0,105.5 L546.0,108.4 L549.0,111.4 L552.0,114.3 L555.0,117.0 L558.0,120.2 L561.0,123.6 L564.0,126.9 L567.0,131.1 L570.0,136.1 L573.0,141.4 L576.0,146.9 L579.0,152.5 L582.0,158.6 L585.0,164.8 L588.0,171.0 L591.0,177.2 L594.0,183.7 L597.0,189.1 L600.0,193.8 L603.0,198.1 L605.5,200.7" stroke-opacity="0.21"/>
<path d="M66.0,198.1 L69.0,199.9 L72.0,201.7 L75.0,203.7 L78.0,205.9 L81.0,208.3 L84.0,210.8 L87.0,213.4 L90.0,216.2 L93.0,219.1 L96.0,222.1 L99.0,225.1 L102.0,227.3 L105.0,229.0 L108.0,230.5 L111.0,231.9 L114.0,233.1 L117.0,234.1 L120.0,235.1 L123.0,236.0 L126.0,236.7 L129.0,237.2 L132.0,237.6 L135.0,238.0 L138.0,238.4 L141.0,238.7 L144.0,239.2 L147.0,239.9 L150.0,240.5 L153.0,240.4 L156.0,240.4 L159.0,240.3 L162.0,240.1 L165.0,239.5 L168.0,238.8 L171.0,237.8 L174.0,236.2 L177.0,234.3 L180.0,232.2 L183.0,229.8 L186.0,227.5 L189.0,225.2 L192.0,222.7 L195.0,220.2 L198.0,217.9 L201.0,216.0 L204.0,214.4 L207.0,212.9 L210.0,211.5 L213.0,210.4 L216.0,209.2 L219.0,207.9 L222.0,206.4 L225.0,204.7 L228.0,202.6 L231.0,200.2 L234.0,197.3 L237.0,194.3 L240.0,191.1 L243.0,187.9 L246.0,184.8 L249.0,181.9 L252.0,179.3 L255.0,176.9 L258.0,174.7 L261.0,172.7 L264.0,170.9 L267.0,169.2 L270.0,167.4 L273.0,165.7 L276.0,163.9 L279.0,162.0 L282.0,159.8 L285.0,157.4 L288.0,154.7 L291.0,151.7 L294.0,148.6 L297.0,145.3 L300.0,142.1 L303.0,138.9 L306.0,135.8 L309.0,132.9 L312.0,130.4 L315.0,128.3 L318.0,126.5 L321.0,124.9 L324.0,123.6 L327.0,122.3 L330.0,121.1 L333.0,119.4 L336.0,117.5 L339.0,115.7 L342.0,113.7 L345.0,111.4 L348.0,109.1 L351.0,106.6 L354.0,104.1 L357.0,101.5 L360.0,99.0 L363.0,96.5 L366.0,94.2 L369.0,92.4 L372.0,90.8 L375.0,89.5 L378.0,88.4 L381.0,87.4 L384.0,86.4 L387.0,85.6 L390.0,84.7 L393.0,84.1 L396.0,83.5 L399.0,82.7 L402.0,81.8 L405.0,80.8 L408.0,79.6 L411.0,78.4 L414.0,77.2 L417.0,76.1 L420.0,75.0 L423.0,74.0 L426.0,73.1 L429.0,72.4 L432.0,71.9 L435.0,71.6 L438.0,71.5 L441.0,71.4 L444.0,71.4 L447.0,71.5 L450.0,71.7 L453.0,71.7 L456.0,71.6 L459.0,72.0 L462.0,72.2 L465.0,72.3 L468.0,72.4 L471.0,72.4 L474.0,72.4 L477.0,72.5 L480.0,72.7 L483.0,73.5 L486.0,74.3 L489.0,75.4 L492.0,76.5 L495.0,77.8 L498.0,79.2 L501.0,80.8 L504.0,82.8 L507.0,84.8 L510.0,86.7 L513.0,88.5 L516.0,90.1 L519.0,91.6 L522.0,93.1 L525.0,94.5 L528.0,96.0 L531.0,97.4 L534.0,98.9 L537.0,100.8 L540.0,103.0 L543.0,105.5 L546.0,108.2 L549.0,111.3 L552.0,114.7 L555.0,118.2 L558.0,122.5 L561.0,127.0 L564.0,131.6 L567.0,136.9 L570.0,142.7 L573.0,148.3 L576.0,153.4 L579.0,157.9 L582.0,162.1 L585.0,166.0 L588.0,169.8 L591.0,173.4 L594.0,177.8 L597.0,181.9 L600.0,186.1 L603.0,190.7 L605.5,193.9" stroke-opacity="0.21"/>
<path d="M66.0,195.9 L69.0,198.8 L72.0,201.8 L75.0,204.8 L78.0,207.9 L81.0,210.9 L84.0,213.8 L87.0,216.7 L90.0,219.5 L93.0,222.2 L96.0,224.8 L99.0,227.3 L102.0,229.0 L105.0,230.3 L108.0,231.4 L111.0,232.6 L114.0,233.7 L117.0,234.7 L120.0,235.8 L123.0,236.9 L126.0,237.9 L129.0,238.8 L132.0,239.5 L135.0,240.1 L138.0,240.6 L141.0,241.0 L144.0,241.4 L147.0,242.0 L150.0,242.4 L153.0,242.1 L156.0,241.9 L159.0,241.6 L162.0,241.3 L165.0,240.7 L168.0,240.2 L171.0,239.4 L174.0,238.2 L177.0,236.7 L180.0,235.1 L183.0,233.2 L186.0,231.3 L189.0,229.3 L192.0,226.7 L195.0,223.8 L198.0,221.0 L201.0,218.2 L204.0,215.4 L207.0,212.8 L210.0,210.2 L213.0,207.9 L216.0,205.7 L219.0,203.6 L222.0,201.6 L225.0,199.7 L228.0,197.9 L231.0,196.0 L234.0,194.1 L237.0,192.1 L240.0,190.2 L243.0,188.2 L246.0,186.2 L249.0,184.1 L252.0,182.0 L255.0,179.7 L258.0,177.3 L261.0,174.7 L264.0,172.1 L267.0,169.3 L270.0,166.4 L273.0,163.5 L276.0,160.6 L279.0,157.6 L282.0,154.6 L285.0,151.6 L288.0,148.8 L291.0,146.0 L294.0,143.6 L297.0,141.3 L300.0,139.1 L303.0,137.0 L306.0,135.1 L309.0,133.1 L312.0,131.5 L315.0,130.0 L318.0,128.6 L321.0,127.2 L324.0,125.8 L327.0,124.4 L330.0,122.9 L333.0,120.7 L336.0,118.4 L339.0,116.4 L342.0,114.2 L345.0,111.9 L348.0,109.7 L351.0,107.4 L354.0,105.2 L357.0,103.0 L360.0,100.8 L363.0,98.6 L366.0,96.5 L369.0,94.7 L372.0,93.1 L375.0,91.5 L378.0,90.1 L381.0,88.7 L384.0,87.4 L387.0,86.3 L390.0,85.2 L393.0,84.6 L396.0,84.0 L399.0,83.4 L402.0,82.8 L405.0,82.2 L408.0,81.5 L411.0,80.8 L414.0,80.1 L417.0,79.3 L420.0,78.5 L423.0,77.6 L426.0,76.6 L429.0,75.6 L432.0,74.7 L435.0,73.8 L438.0,72.9 L441.0,72.0 L444.0,71.1 L447.0,70.5 L450.0,70.0 L453.0,69.6 L456.0,69.2 L459.0,69.5 L462.0,69.9 L465.0,70.3 L468.0,70.7 L471.0,71.3 L474.0,71.9 L477.0,72.6 L480.0,73.2 L483.0,74.3 L486.0,75.4 L489.0,76.4 L492.0,77.4 L495.0,78.3 L498.0,79.1 L501.0,80.1 L504.0,81.4 L507.0,82.7 L510.0,83.9 L513.0,85.0 L516.0,86.2 L519.0,87.4 L522.0,88.7 L525.0,90.1 L528.0,91.8 L531.0,93.6 L534.0,95.5 L537.0,97.8 L540.0,100.3 L543.0,103.0 L546.0,106.0 L549.0,109.2 L552.0,112.7 L555.0,116.1 L558.0,120.2 L561.0,124.5 L564.0,128.8 L567.0,133.8 L570.0,139.4 L573.0,144.8 L576.0,150.1 L579.0,154.9 L582.0,159.7 L585.0,164.3 L588.0,168.8 L591.0,173.2 L594.0,178.3 L597.0,182.8 L600.0,187.2 L603.0,191.7 L605.5,194.7" stroke-opacity="0.21"/>
<path d="M66.0,196.9 L69.0,199.5 L72.0,202.1 L75.0,204.7 L78.0,207.3 L81.0,210.0 L84.0,212.6 L87.0,215.1 L90.0,217.8 L93.0,220.5 L96.0,223.2 L99.0,225.9 L102.0,227.9 L105.0,229.6 L108.0,231.3 L111.0,232.9 L114.0,234.6 L117.0,236.3 L120.0,238.0 L123.0,239.6 L126.0,241.1 L129.0,242.5 L132.0,243.4 L135.0,244.1 L138.0,244.6 L141.0,245.0 L144.0,245.3 L147.0,245.6 L150.0,245.8 L153.0,245.1 L156.0,244.4 L159.0,243.7 L162.0,242.9 L165.0,241.9 L168.0,241.0 L171.0,239.8 L174.0,238.4 L177.0,236.7 L180.0,235.1 L183.0,233.4 L186.0,231.8 L189.0,230.2 L192.0,228.2 L195.0,226.1 L198.0,223.9 L201.0,221.8 L204.0,219.8 L207.0,217.7 L210.0,215.7 L213.0,213.9 L216.0,212.0 L219.0,210.2 L222.0,208.2 L225.0,206.2 L228.0,204.2 L231.0,202.0 L234.0,199.4 L237.0,196.9 L240.0,194.3 L243.0,191.6 L246.0,188.9 L249.0,186.3 L252.0,183.6 L255.0,180.9 L258.0,178.2 L261.0,175.6 L264.0,172.9 L267.0,170.3 L270.0,167.6 L273.0,165.1 L276.0,162.6 L279.0,160.1 L282.0,157.7 L285.0,155.3 L288.0,153.0 L291.0,150.7 L294.0,148.6 L297.0,146.4 L300.0,144.3 L303.0,142.2 L306.0,140.0 L309.0,137.8 L312.0,136.0 L315.0,134.2 L318.0,132.5 L321.0,130.7 L324.0,128.9 L327.0,127.1 L330.0,125.2 L333.0,122.7 L336.0,120.2 L339.0,117.9 L342.0,115.6 L345.0,113.3 L348.0,111.0 L351.0,108.9 L354.0,106.8 L357.0,104.8 L360.0,102.9 L363.0,100.9 L366.0,98.9 L369.0,97.2 L372.0,95.6 L375.0,94.0 L378.0,92.5 L381.0,90.9 L384.0,89.4 L387.0,88.0 L390.0,86.7 L393.0,85.8 L396.0,85.0 L399.0,84.2 L402.0,83.4 L405.0,82.6 L408.0,81.8 L411.0,81.0 L414.0,80.2 L417.0,79.4 L420.0,78.6 L423.0,77.7 L426.0,76.8 L429.0,76.0 L432.0,75.1 L435.0,74.3 L438.0,73.5 L441.0,72.7 L444.0,71.8 L447.0,71.2 L450.0,70.6 L453.0,70.0 L456.0,69.5 L459.0,69.6 L462.0,69.7 L465.0,69.8 L468.0,69.9 L471.0,70.2 L474.0,70.5 L477.0,70.9 L480.0,71.3 L483.0,72.1 L486.0,73.0 L489.0,73.9 L492.0,74.8 L495.0,75.7 L498.0,76.6 L501.0,77.7 L504.0,79.1 L507.0,80.5 L510.0,82.0 L513.0,83.3 L516.0,84.7 L519.0,86.0 L522.0,87.4 L525.0,88.9 L528.0,90.6 L531.0,92.3 L534.0,94.0 L537.0,96.0 L540.0,98.1 L543.0,100.4 L546.0,102.8 L549.0,105.5 L552.0,108.2 L555.0,111.0 L558.0,114.3 L561.0,117.8 L564.0,121.4 L567.0,125.4 L570.0,130.2 L573.0,135.0 L576.0,139.9 L579.0,144.6 L582.0,149.6 L585.0,154.6 L588.0,159.6 L591.0,164.6 L594.0,170.8 L597.0,176.5 L600.0,182.0 L603.0,187.4 L605.5,191.0" stroke-opacity="0.21"/>
<path d="M66.0,196.2 L69.0,199.1 L72.0,202.1 L75.0,205.2 L78.0,208.4 L81.0,211.5 L84.0,214.4 L87.0,217.2 L90.0,219.8 L93.0,222.3 L96.0,224.7 L99.0,226.9 L102.0,228.2 L105.0,229.1 L108.0,230.0 L111.0,231.0 L114.0,232.0 L117.0,233.1 L120.0,234.4 L123.0,235.9 L126.0,237.3 L129.0,238.7 L132.0,239.9 L135.0,240.9 L138.0,241.8 L141.0,242.5 L144.0,243.1 L147.0,243.6 L150.0,243.8 L153.0,243.1 L156.0,242.2 L159.0,241.2 L162.0,240.0 L165.0,238.6 L168.0,237.0 L171.0,235.4 L174.0,233.6 L177.0,231.6 L180.0,229.8 L183.0,228.0 L186.0,226.5 L189.0,225.1 L192.0,223.5 L195.0,221.8 L198.0,220.0 L201.0,218.2 L204.0,216.4 L207.0,214.3 L210.0,212.1 L213.0,209.8 L216.0,207.3 L219.0,204.6 L222.0,201.8 L225.0,198.9 L228.0,196.0 L231.0,193.2 L234.0,190.3 L237.0,187.7 L240.0,185.3 L243.0,183.1 L246.0,181.2 L249.0,179.5 L252.0,178.0 L255.0,176.4 L258.0,174.7 L261.0,172.9 L264.0,170.9 L267.0,168.7 L270.0,166.3 L273.0,163.6 L276.0,160.8 L279.0,157.9 L282.0,154.8 L285.0,151.8 L288.0,148.7 L291.0,145.9 L294.0,143.5 L297.0,141.3 L300.0,139.2 L303.0,137.4 L306.0,135.8 L309.0,134.2 L312.0,132.9 L315.0,131.8 L318.0,130.6 L321.0,129.3 L324.0,127.9 L327.0,126.3 L330.0,124.4 L333.0,121.8 L336.0,119.1 L339.0,116.6 L342.0,114.0 L345.0,111.6 L348.0,109.4 L351.0,107.3 L354.0,105.5 L357.0,103.8 L360.0,102.3 L363.0,101.0 L366.0,99.8 L369.0,98.8 L372.0,97.9 L375.0,96.8 L378.0,95.6 L381.0,94.3 L384.0,92.8 L387.0,91.2 L390.0,89.5 L393.0,88.3 L396.0,87.0 L399.0,85.7 L402.0,84.4 L405.0,83.2 L408.0,82.1 L411.0,81.1 L414.0,80.2 L417.0,79.6 L420.0,79.0 L423.0,78.5 L426.0,78.2 L429.0,77.8 L432.0,77.5 L435.0,77.3 L438.0,76.9 L441.0,76.4 L444.0,75.8 L447.0,75.2 L450.0,74.5 L453.0,73.7 L456.0,72.9 L459.0,72.7 L462.0,72.6 L465.0,72.5 L468.0,72.4 L471.0,72.5 L474.0,72.8 L477.0,73.2 L480.0,73.7 L483.0,74.8 L486.0,76.0 L489.0,77.1 L492.0,78.3 L495.0,79.3 L498.0,80.3 L501.0,81.4 L504.0,82.8 L507.0,84.0 L510.0,85.1 L513.0,86.2 L516.0,87.2 L519.0,88.1 L522.0,89.2 L525.0,90.4 L528.0,92.1 L531.0,93.8 L534.0,95.7 L537.0,98.0 L540.0,100.6 L543.0,103.4 L546.0,106.5 L549.0,109.8 L552.0,113.1 L555.0,116.4 L558.0,120.2 L561.0,124.0 L564.0,127.6 L567.0,131.7 L570.0,136.2 L573.0,140.5 L576.0,144.5 L579.0,148.3 L582.0,152.2 L585.0,156.3 L588.0,160.6 L591.0,165.1 L594.0,171.0 L597.0,176.9 L600.0,182.6 L603.0,188.5 L605.5,192.5" stroke-opacity="0.21"/>
<path d="M66.0,204.1 L69.0,206.9 L72.0,209.7 L75.0,212.4 L78.0,215.1 L81.0,217.8 L84.0,220.4 L87.0,222.9 L90.0,225.4 L93.0,227.9 L96.0,230.3 L99.0,232.7 L102.0,234.3 L105.0,235.6 L108.0,236.8 L111.0,238.0 L114.0,239.2 L117.0,240.4 L120.0,241.6 L123.0,242.8 L126.0,243.9 L129.0,245.0 L132.0,245.6 L135.0,246.0 L138.0,246.3 L141.0,246.5 L144.0,246.7 L147.0,246.9 L150.0,247.1 L153.0,246.4 L156.0,245.7 L159.0,245.0 L162.0,244.3 L165.0,243.4 L168.0,242.4 L171.0,241.3 L174.0,239.8 L177.0,238.0 L180.0,236.3 L183.0,234.3 L186.0,232.4 L189.0,230.3 L192.0,227.8 L195.0,225.0 L198.0,222.1 L201.0,219.2 L204.0,216.4 L207.0,213.6 L210.0,210.7 L213.0,208.0 L216.0,205.3 L219.0,202.6 L222.0,199.9 L225.0,197.1 L228.0,194.3 L231.0,191.5 L234.0,188.5 L237.0,185.6 L240.0,182.8 L243.0,180.0 L246.0,177.3 L249.0,174.9 L252.0,172.5 L255.0,170.1 L258.0,167.8 L261.0,165.5 L264.0,163.3 L267.0,161.0 L270.0,158.7 L273.0,156.2 L276.0,153.7 L279.0,151.2 L282.0,148.8 L285.0,146.3 L288.0,143.8 L291.0,141.5 L294.0,139.4 L297.0,137.2 L300.0,135.1 L303.0,132.9 L306.0,130.7 L309.0,128.5 L312.0,126.4 L315.0,124.4 L318.0,122.4 L321.0,120.4 L324.0,118.6 L327.0,116.9 L330.0,115.1 L333.0,113.0 L336.0,111.0 L339.0,109.5 L342.0,108.1 L345.0,106.7 L348.0,105.3 L351.0,103.9 L354.0,102.4 L357.0,101.0 L360.0,99.6 L363.0,98.3 L366.0,96.9 L369.0,95.8 L372.0,94.8 L375.0,93.7 L378.0,92.7 L381.0,91.5 L384.0,90.4 L387.0,89.3 L390.0,88.1 L393.0,87.6 L396.0,87.0 L399.0,86.3 L402.0,85.7 L405.0,85.0 L408.0,84.4 L411.0,83.7 L414.0,83.1 L417.0,82.4 L420.0,81.8 L423.0,81.1 L426.0,80.4 L429.0,79.7 L432.0,79.0 L435.0,78.5 L438.0,77.9 L441.0,77.3 L444.0,76.7 L447.0,76.2 L450.0,75.7 L453.0,75.3 L456.0,74.8 L459.0,75.1 L462.0,75.3 L465.0,75.6 L468.0,75.9 L471.0,76.2 L474.0,76.6 L477.0,77.0 L480.0,77.3 L483.0,78.2 L486.0,79.2 L489.0,80.1 L492.0,81.0 L495.0,81.9 L498.0,82.8 L501.0,83.8 L504.0,85.3 L507.0,86.7 L510.0,88.1 L513.0,89.4 L516.0,90.7 L519.0,92.0 L522.0,93.5 L525.0,94.9 L528.0,96.5 L531.0,98.1 L534.0,99.7 L537.0,101.7 L540.0,103.8 L543.0,106.1 L546.0,108.4 L549.0,111.0 L552.0,113.7 L555.0,116.4 L558.0,119.6 L561.0,123.1 L564.0,126.5 L567.0,130.5 L570.0,135.2 L573.0,139.9 L576.0,144.4 L579.0,148.8 L582.0,153.3 L585.0,157.8 L588.0,162.3 L591.0,166.9 L594.0,172.5 L597.0,177.7 L600.0,182.7 L603.0,187.8 L605.5,191.1" stroke-opacity="0.21"/>
<path d="M66.0,196.7 L69.0,199.4 L72.0,202.2 L75.0,205.1 L78.0,208.2 L81.0,211.3 L84.0,214.4 L87.0,217.5 L90.0,220.5 L93.0,223.5 L96.0,226.4 L99.0,229.1 L102.0,230.9 L105.0,232.2 L108.0,233.4 L111.0,234.5 L114.0,235.7 L117.0,236.8 L120.0,237.9 L123.0,239.2 L126.0,240.4 L129.0,241.7 L132.0,242.6 L135.0,243.5 L138.0,244.3 L141.0,245.1 L144.0,245.8 L147.0,246.6 L150.0,247.1 L153.0,246.8 L156.0,246.4 L159.0,245.8 L162.0,245.0 L165.0,244.0 L168.0,242.8 L171.0,241.4 L174.0,239.6 L177.0,237.5 L180.0,235.6 L183.0,233.6 L186.0,231.7 L189.0,230.0 L192.0,228.0 L195.0,225.9 L198.0,223.9 L201.0,222.0 L204.0,220.1 L207.0,218.2 L210.0,216.1 L213.0,214.1 L216.0,211.9 L219.0,209.5 L222.0,206.9 L225.0,204.0 L228.0,201.1 L231.0,198.0 L234.0,194.6 L237.0,191.4 L240.0,188.3 L243.0,185.3 L246.0,182.6 L249.0,180.2 L252.0,178.0 L255.0,175.8 L258.0,173.8 L261.0,171.8 L264.0,169.8 L267.0,167.6 L270.0,165.3 L273.0,162.8 L276.0,160.2 L279.0,157.3 L282.0,154.3 L285.0,151.1 L288.0,147.9 L291.0,144.7 L294.0,141.8 L297.0,139.0 L300.0,136.3 L303.0,133.9 L306.0,131.7 L309.0,129.6 L312.0,127.8 L315.0,126.3 L318.0,124.8 L321.0,123.5 L324.0,122.2 L327.0,120.9 L330.0,119.4 L333.0,117.3 L336.0,115.0 L339.0,113.0 L342.0,110.9 L345.0,108.7 L348.0,106.6 L351.0,104.5 L354.0,102.5 L357.0,100.5 L360.0,98.7 L363.0,97.1 L366.0,95.6 L369.0,94.6 L372.0,93.7 L375.0,92.8 L378.0,91.9 L381.0,91.0 L384.0,89.9 L387.0,88.8 L390.0,87.6 L393.0,86.9 L396.0,86.0 L399.0,85.0 L402.0,84.0 L405.0,82.9 L408.0,81.9 L411.0,80.9 L414.0,80.0 L417.0,79.2 L420.0,78.5 L423.0,78.0 L426.0,77.5 L429.0,77.2 L432.0,76.9 L435.0,76.8 L438.0,76.7 L441.0,76.5 L444.0,76.2 L447.0,75.9 L450.0,75.6 L453.0,75.1 L456.0,74.6 L459.0,74.6 L462.0,74.6 L465.0,74.6 L468.0,74.6 L471.0,74.6 L474.0,74.7 L477.0,75.0 L480.0,75.3 L483.0,76.2 L486.0,77.3 L489.0,78.4 L492.0,79.5 L495.0,80.7 L498.0,81.8 L501.0,83.1 L504.0,84.7 L507.0,86.2 L510.0,87.5 L513.0,88.8 L516.0,90.0 L519.0,91.0 L522.0,92.2 L525.0,93.4 L528.0,94.8 L531.0,96.3 L534.0,97.9 L537.0,100.0 L540.0,102.3 L543.0,104.9 L546.0,107.7 L549.0,110.8 L552.0,114.1 L555.0,117.4 L558.0,121.3 L561.0,125.3 L564.0,129.3 L567.0,133.7 L570.0,138.6 L573.0,143.3 L576.0,147.6 L579.0,151.5 L582.0,155.4 L585.0,159.3 L588.0,163.2 L591.0,167.2 L594.0,172.4 L597.0,177.5 L600.0,182.7 L603.0,188.1 L605.5,191.8" stroke-opacity="0.22"/>
<path d="M66.0,201.2 L69.0,203.6 L72.0,205.9 L75.0,208.3 L78.0,210.7 L81.0,213.2 L84.0,215.6 L87.0,218.0 L90.0,220.4 L93.0,222.9 L96.0,225.4 L99.0,228.0 L102.0,229.9 L105.0,231.4 L108.0,233.0 L111.0,234.6 L114.0,236.2 L117.0,237.9 L120.0,239.5 L123.0,241.2 L126.0,242.8 L129.0,244.4 L132.0,245.4 L135.0,246.2 L138.0,246.8 L141.0,247.3 L144.0,247.8 L147.0,248.3 L150.0,248.6 L153.0,248.0 L156.0,247.4 L159.0,246.8 L162.0,246.0 L165.0,245.1 L168.0,244.1 L171.0,242.9 L174.0,241.1 L177.0,239.3 L180.0,237.3 L183.0,235.3 L186.0,233.2 L189.0,231.0 L192.0,228.4 L195.0,225.5 L198.0,222.7 L201.0,220.0 L204.0,217.3 L207.0,214.8 L210.0,212.2 L213.0,210.0 L216.0,207.8 L219.0,205.6 L222.0,203.5 L225.0,201.3 L228.0,199.3 L231.0,197.2 L234.0,194.9 L237.0,192.6 L240.0,190.3 L243.0,188.0 L246.0,185.8 L249.0,183.6 L252.0,181.4 L255.0,179.1 L258.0,176.7 L261.0,174.3 L264.0,171.8 L267.0,169.3 L270.0,166.6 L273.0,163.9 L276.0,161.1 L279.0,158.3 L282.0,155.4 L285.0,152.4 L288.0,149.4 L291.0,146.5 L294.0,143.7 L297.0,140.9 L300.0,138.1 L303.0,135.4 L306.0,132.7 L309.0,130.1 L312.0,127.6 L315.0,125.4 L318.0,123.2 L321.0,121.2 L324.0,119.3 L327.0,117.6 L330.0,115.9 L333.0,113.9 L336.0,112.0 L339.0,110.7 L342.0,109.3 L345.0,108.0 L348.0,106.7 L351.0,105.3 L354.0,103.9 L357.0,102.5 L360.0,101.1 L363.0,99.6 L366.0,98.2 L369.0,96.9 L372.0,95.6 L375.0,94.2 L378.0,92.7 L381.0,91.2 L384.0,89.7 L387.0,88.2 L390.0,86.7 L393.0,85.7 L396.0,84.6 L399.0,83.6 L402.0,82.6 L405.0,81.6 L408.0,80.6 L411.0,79.6 L414.0,78.7 L417.0,77.8 L420.0,77.0 L423.0,76.2 L426.0,75.5 L429.0,74.8 L432.0,74.2 L435.0,73.7 L438.0,73.3 L441.0,72.9 L444.0,72.5 L447.0,72.3 L450.0,72.2 L453.0,72.1 L456.0,72.0 L459.0,72.6 L462.0,73.1 L465.0,73.7 L468.0,74.2 L471.0,74.7 L474.0,75.3 L477.0,75.8 L480.0,76.3 L483.0,77.3 L486.0,78.3 L489.0,79.3 L492.0,80.2 L495.0,81.0 L498.0,81.9 L501.0,82.9 L504.0,84.2 L507.0,85.5 L510.0,86.8 L513.0,88.1 L516.0,89.4 L519.0,90.7 L522.0,92.1 L525.0,93.5 L528.0,95.2 L531.0,96.9 L534.0,98.7 L537.0,100.9 L540.0,103.3 L543.0,105.9 L546.0,108.6 L549.0,111.6 L552.0,114.8 L555.0,118.1 L558.0,122.0 L561.0,126.1 L564.0,130.4 L567.0,135.4 L570.0,141.2 L573.0,147.0 L576.0,152.7 L579.0,158.1 L582.0,163.5 L585.0,168.9 L588.0,174.3 L591.0,179.6 L594.0,185.2 L597.0,190.1 L600.0,194.5 L603.0,198.9 L605.5,201.8" stroke-opacity="0.22"/>
<path d="M66.0,196.4 L69.0,198.9 L72.0,201.4 L75.0,203.8 L78.0,206.3 L81.0,208.8 L84.0,211.3 L87.0,213.8 L90.0,216.3 L93.0,218.9 L96.0,221.6 L99.0,224.3 L102.0,226.3 L105.0,228.1 L108.0,229.8 L111.0,231.6 L114.0,233.4 L117.0,235.2 L120.0,237.0 L123.0,238.8 L126.0,240.4 L129.0,241.8 L132.0,242.8 L135.0,243.5 L138.0,244.1 L141.0,244.4 L144.0,244.8 L147.0,245.1 L150.0,245.2 L153.0,244.6 L156.0,243.9 L159.0,243.3 L162.0,242.6 L165.0,241.8 L168.0,241.1 L171.0,240.3 L174.0,239.1 L177.0,237.8 L180.0,236.7 L183.0,235.5 L186.0,234.3 L189.0,233.2 L192.0,231.6 L195.0,229.8 L198.0,227.8 L201.0,225.8 L204.0,223.8 L207.0,221.7 L210.0,219.4 L213.0,217.4 L216.0,215.2 L219.0,213.0 L222.0,210.7 L225.0,208.3 L228.0,205.9 L231.0,203.3 L234.0,200.5 L237.0,197.7 L240.0,194.9 L243.0,192.2 L246.0,189.6 L249.0,187.2 L252.0,184.7 L255.0,182.4 L258.0,180.0 L261.0,177.7 L264.0,175.4 L267.0,173.1 L270.0,170.7 L273.0,168.5 L276.0,166.1 L279.0,163.7 L282.0,161.3 L285.0,158.7 L288.0,156.0 L291.0,153.2 L294.0,150.4 L297.0,147.5 L300.0,144.6 L303.0,141.7 L306.0,138.8 L309.0,135.9 L312.0,133.3 L315.0,130.9 L318.0,128.5 L321.0,126.3 L324.0,124.2 L327.0,122.2 L330.0,120.3 L333.0,118.0 L336.0,115.8 L339.0,114.0 L342.0,112.2 L345.0,110.4 L348.0,108.6 L351.0,106.8 L354.0,105.0 L357.0,103.2 L360.0,101.3 L363.0,99.3 L366.0,97.3 L369.0,95.5 L372.0,93.7 L375.0,91.9 L378.0,90.1 L381.0,88.3 L384.0,86.6 L387.0,85.0 L390.0,83.5 L393.0,82.5 L396.0,81.5 L399.0,80.6 L402.0,79.8 L405.0,79.1 L408.0,78.4 L411.0,77.7 L414.0,77.2 L417.0,76.6 L420.0,76.1 L423.0,75.6 L426.0,75.1 L429.0,74.6 L432.0,74.1 L435.0,73.6 L438.0,73.1 L441.0,72.5 L444.0,71.9 L447.0,71.4 L450.0,71.0 L453.0,70.6 L456.0,70.2 L459.0,70.4 L462.0,70.6 L465.0,70.9 L468.0,71.1 L471.0,71.5 L474.0,72.0 L477.0,72.5 L480.0,73.1 L483.0,74.2 L486.0,75.3 L489.0,76.5 L492.0,77.7 L495.0,78.9 L498.0,80.1 L501.0,81.5 L504.0,83.2 L507.0,85.0 L510.0,86.7 L513.0,88.3 L516.0,89.9 L519.0,91.5 L522.0,93.1 L525.0,94.8 L528.0,96.7 L531.0,98.5 L534.0,100.3 L537.0,102.6 L540.0,105.1 L543.0,107.8 L546.0,110.6 L549.0,113.7 L552.0,117.0 L555.0,120.3 L558.0,124.4 L561.0,128.8 L564.0,133.2 L567.0,138.6 L570.0,144.6 L573.0,150.7 L576.0,156.6 L579.0,162.2 L582.0,167.6 L585.0,173.1 L588.0,178.3 L591.0,183.5 L594.0,188.8 L597.0,193.2 L600.0,197.3 L603.0,201.3 L605.5,203.9" stroke-opacity="0.22"/>
<path d="M66.0,202.2 L69.0,204.6 L72.0,207.1 L75.0,209.6 L78.0,212.1 L81.0,214.7 L84.0,217.3 L87.0,219.9 L90.0,222.6 L93.0,225.4 L96.0,228.2 L99.0,231.0 L102.0,233.1 L105.0,234.8 L108.0,236.5 L111.0,238.1 L114.0,239.7 L117.0,241.3 L120.0,242.9 L123.0,244.3 L126.0,245.7 L129.0,246.9 L132.0,247.6 L135.0,247.9 L138.0,248.1 L141.0,248.2 L144.0,248.3 L147.0,248.3 L150.0,248.3 L153.0,247.4 L156.0,246.5 L159.0,245.7 L162.0,244.8 L165.0,243.9 L168.0,243.0 L171.0,241.9 L174.0,240.6 L177.0,239.1 L180.0,237.7 L183.0,236.3 L186.0,235.0 L189.0,233.7 L192.0,231.9 L195.0,229.8 L198.0,227.7 L201.0,225.6 L204.0,223.4 L207.0,221.2 L210.0,218.9 L213.0,216.7 L216.0,214.5 L219.0,212.2 L222.0,209.8 L225.0,207.3 L228.0,204.7 L231.0,201.9 L234.0,198.9 L237.0,195.8 L240.0,192.8 L243.0,189.7 L246.0,186.8 L249.0,184.0 L252.0,181.3 L255.0,178.7 L258.0,176.2 L261.0,173.7 L264.0,171.3 L267.0,169.0 L270.0,166.7 L273.0,164.4 L276.0,162.2 L279.0,160.1 L282.0,157.9 L285.0,155.8 L288.0,153.6 L291.0,151.3 L294.0,149.1 L297.0,146.8 L300.0,144.5 L303.0,142.0 L306.0,139.5 L309.0,136.8 L312.0,134.4 L315.0,132.2 L318.0,129.8 L321.0,127.5 L324.0,125.2 L327.0,122.9 L330.0,120.6 L333.0,118.0 L336.0,115.4 L339.0,113.3 L342.0,111.3 L345.0,109.4 L348.0,107.6 L351.0,105.9 L354.0,104.3 L357.0,102.7 L360.0,101.2 L363.0,99.7 L366.0,98.2 L369.0,96.9 L372.0,95.6 L375.0,94.3 L378.0,93.0 L381.0,91.5 L384.0,90.1 L387.0,88.6 L390.0,87.1 L393.0,86.1 L396.0,85.1 L399.0,84.0 L402.0,82.9 L405.0,81.8 L408.0,80.7 L411.0,79.6 L414.0,78.6 L417.0,77.6 L420.0,76.7 L423.0,75.8 L426.0,74.9 L429.0,74.1 L432.0,73.4 L435.0,72.8 L438.0,72.3 L441.0,71.8 L444.0,71.3 L447.0,71.1 L450.0,70.9 L453.0,70.8 L456.0,70.6 L459.0,71.0 L462.0,71.4 L465.0,71.8 L468.0,72.2 L471.0,72.5 L474.0,72.9 L477.0,73.2 L480.0,73.5 L483.0,74.3 L486.0,75.0 L489.0,75.7 L492.0,76.3 L495.0,77.0 L498.0,77.6 L501.0,78.5 L504.0,79.7 L507.0,80.9 L510.0,82.2 L513.0,83.6 L516.0,84.9 L519.0,86.3 L522.0,87.9 L525.0,89.6 L528.0,91.6 L531.0,93.7 L534.0,95.8 L537.0,98.3 L540.0,101.0 L543.0,103.8 L546.0,106.8 L549.0,110.0 L552.0,113.2 L555.0,116.5 L558.0,120.3 L561.0,124.3 L564.0,128.2 L567.0,132.8 L570.0,137.9 L573.0,143.0 L576.0,147.8 L579.0,152.3 L582.0,156.9 L585.0,161.4 L588.0,165.9 L591.0,170.4 L594.0,175.8 L597.0,180.9 L600.0,185.8 L603.0,190.8 L605.5,194.2" stroke-opacity="0.22"/>
<path d="M66.0,199.5 L69.0,202.1 L72.0,204.8 L75.0,207.4 L78.0,209.9 L81.0,212.5 L84.0,215.0 L87.0,217.5 L90.0,220.0 L93.0,222.5 L96.0,225.1 L99.0,227.7 L102.0,229.6 L105.0,231.2 L108.0,232.8 L111.0,234.5 L114.0,236.2 L117.0,237.9 L120.0,239.6 L123.0,241.3 L126.0,242.9 L129.0,244.4 L132.0,245.3 L135.0,246.0 L138.0,246.6 L141.0,247.0 L144.0,247.3 L147.0,247.6 L150.0,247.8 L153.0,247.1 L156.0,246.4 L159.0,245.7 L162.0,245.0 L165.0,244.1 L168.0,243.2 L171.0,242.2 L174.0,240.8 L177.0,239.3 L180.0,237.8 L183.0,236.4 L186.0,234.9 L189.0,233.6 L192.0,231.7 L195.0,229.6 L198.0,227.4 L201.0,225.3 L204.0,223.1 L207.0,220.9 L210.0,218.6 L213.0,216.5 L216.0,214.3 L219.0,212.1 L222.0,209.7 L225.0,207.2 L228.0,204.7 L231.0,202.0 L234.0,199.1 L237.0,196.1 L240.0,193.2 L243.0,190.3 L246.0,187.4 L249.0,184.7 L252.0,182.1 L255.0,179.5 L258.0,177.0 L261.0,174.5 L264.0,172.1 L267.0,169.7 L270.0,167.3 L273.0,164.9 L276.0,162.5 L279.0,160.1 L282.0,157.7 L285.0,155.2 L288.0,152.6 L291.0,150.0 L294.0,147.4 L297.0,144.8 L300.0,142.1 L303.0,139.4 L306.0,136.7 L309.0,133.9 L312.0,131.4 L315.0,129.0 L318.0,126.7 L321.0,124.5 L324.0,122.4 L327.0,120.4 L330.0,118.4 L333.0,116.2 L336.0,114.0 L339.0,112.3 L342.0,110.7 L345.0,109.1 L348.0,107.5 L351.0,105.9 L354.0,104.3 L357.0,102.6 L360.0,101.0 L363.0,99.3 L366.0,97.6 L369.0,96.0 L372.0,94.5 L375.0,92.9 L378.0,91.2 L381.0,89.6 L384.0,88.0 L387.0,86.5 L390.0,85.0 L393.0,84.1 L396.0,83.1 L399.0,82.2 L402.0,81.4 L405.0,80.6 L408.0,79.9 L411.0,79.3 L414.0,78.7 L417.0,78.2 L420.0,77.7 L423.0,77.2 L426.0,76.8 L429.0,76.3 L432.0,75.9 L435.0,75.5 L438.0,75.1 L441.0,74.6 L444.0,74.2 L447.0,73.7 L450.0,73.4 L453.0,73.0 L456.0,72.5 L459.0,72.8 L462.0,73.0 L465.0,73.2 L468.0,73.4 L471.0,73.7 L474.0,74.1 L477.0,74.5 L480.0,74.9 L483.0,75.9 L486.0,77.0 L489.0,78.0 L492.0,79.1 L495.0,80.2 L498.0,81.4 L501.0,82.7 L504.0,84.4 L507.0,86.1 L510.0,87.7 L513.0,89.4 L516.0,91.0 L519.0,92.5 L522.0,94.2 L525.0,95.9 L528.0,97.7 L531.0,99.5 L534.0,101.2 L537.0,103.5 L540.0,105.9 L543.0,108.4 L546.0,111.1 L549.0,114.0 L552.0,117.1 L555.0,120.3 L558.0,124.1 L561.0,128.2 L564.0,132.4 L567.0,137.5 L570.0,143.2 L573.0,149.0 L576.0,154.6 L579.0,160.0 L582.0,165.3 L585.0,170.6 L588.0,175.8 L591.0,180.9 L594.0,186.2 L597.0,190.8 L600.0,195.1 L603.0,199.2 L605.5,201.9" stroke-opacity="0.22"/>
<path d="M66.0,200.9 L69.0,203.3 L72.0,205.8 L75.0,208.2 L78.0,210.7 L81.0,213.2 L84.0,215.6 L87.0,218.0 L90.0,220.3 L93.0,222.7 L96.0,225.1 L99.0,227.4 L102.0,229.0 L105.0,230.2 L108.0,231.4 L111.0,232.6 L114.0,233.8 L117.0,235.0 L120.0,236.2 L123.0,237.4 L126.0,238.5 L129.0,239.4 L132.0,240.0 L135.0,240.5 L138.0,240.8 L141.0,241.0 L144.0,241.2 L147.0,241.4 L150.0,241.5 L153.0,240.9 L156.0,240.3 L159.0,239.7 L162.0,239.1 L165.0,238.3 L168.0,237.6 L171.0,236.8 L174.0,235.7 L177.0,234.4 L180.0,233.2 L183.0,231.9 L186.0,230.7 L189.0,229.6 L192.0,228.0 L195.0,226.3 L198.0,224.5 L201.0,222.8 L204.0,221.1 L207.0,219.4 L210.0,217.6 L213.0,216.0 L216.0,214.5 L219.0,212.8 L222.0,211.1 L225.0,209.3 L228.0,207.5 L231.0,205.5 L234.0,203.2 L237.0,200.8 L240.0,198.3 L243.0,195.7 L246.0,193.2 L249.0,190.5 L252.0,187.9 L255.0,185.2 L258.0,182.4 L261.0,179.7 L264.0,176.9 L267.0,174.1 L270.0,171.3 L273.0,168.6 L276.0,165.9 L279.0,163.2 L282.0,160.5 L285.0,157.8 L288.0,155.1 L291.0,152.4 L294.0,149.8 L297.0,147.2 L300.0,144.7 L303.0,142.1 L306.0,139.6 L309.0,137.1 L312.0,134.9 L315.0,132.9 L318.0,130.8 L321.0,128.9 L324.0,126.9 L327.0,125.0 L330.0,123.1 L333.0,120.6 L336.0,118.2 L339.0,116.0 L342.0,113.9 L345.0,111.8 L348.0,109.7 L351.0,107.7 L354.0,105.7 L357.0,103.7 L360.0,101.7 L363.0,99.7 L366.0,97.6 L369.0,95.8 L372.0,94.1 L375.0,92.4 L378.0,90.7 L381.0,89.0 L384.0,87.3 L387.0,85.8 L390.0,84.3 L393.0,83.4 L396.0,82.4 L399.0,81.5 L402.0,80.6 L405.0,79.8 L408.0,79.0 L411.0,78.3 L414.0,77.7 L417.0,77.1 L420.0,76.6 L423.0,76.1 L426.0,75.7 L429.0,75.3 L432.0,75.0 L435.0,74.7 L438.0,74.5 L441.0,74.3 L444.0,74.1 L447.0,74.1 L450.0,74.0 L453.0,74.0 L456.0,73.9 L459.0,74.5 L462.0,75.1 L465.0,75.7 L468.0,76.3 L471.0,76.8 L474.0,77.4 L477.0,77.9 L480.0,78.4 L483.0,79.4 L486.0,80.4 L489.0,81.4 L492.0,82.4 L495.0,83.3 L498.0,84.2 L501.0,85.3 L504.0,86.8 L507.0,88.2 L510.0,89.6 L513.0,91.0 L516.0,92.4 L519.0,93.7 L522.0,95.2 L525.0,96.8 L528.0,98.5 L531.0,100.2 L534.0,101.9 L537.0,104.1 L540.0,106.6 L543.0,109.1 L546.0,111.7 L549.0,114.6 L552.0,117.6 L555.0,120.7 L558.0,124.3 L561.0,128.3 L564.0,132.2 L567.0,136.9 L570.0,142.2 L573.0,147.5 L576.0,152.7 L579.0,157.4 L582.0,162.2 L585.0,167.0 L588.0,171.6 L591.0,176.3 L594.0,181.4 L597.0,186.0 L600.0,190.3 L603.0,194.6 L605.5,197.4" stroke-opacity="0.23"/>
<path d="M66.0,199.4 L69.0,202.0 L72.0,204.6 L75.0,207.2 L78.0,209.8 L81.0,212.4 L84.0,214.9 L87.0,217.4 L90.0,219.8 L93.0,222.3 L96.0,224.8 L99.0,227.3 L102.0,229.1 L105.0,230.5 L108.0,231.9 L111.0,233.3 L114.0,234.8 L117.0,236.3 L120.0,237.8 L123.0,239.4 L126.0,240.8 L129.0,242.2 L132.0,243.2 L135.0,244.1 L138.0,244.8 L141.0,245.4 L144.0,246.1 L147.0,246.7 L150.0,247.3 L153.0,247.1 L156.0,246.9 L159.0,246.7 L162.0,246.4 L165.0,246.1 L168.0,245.7 L171.0,245.2 L174.0,244.2 L177.0,243.0 L180.0,241.9 L183.0,240.7 L186.0,239.4 L189.0,238.1 L192.0,236.1 L195.0,233.7 L198.0,231.2 L201.0,228.7 L204.0,226.2 L207.0,223.6 L210.0,220.9 L213.0,218.5 L216.0,216.1 L219.0,213.6 L222.0,211.1 L225.0,208.6 L228.0,206.1 L231.0,203.4 L234.0,200.5 L237.0,197.6 L240.0,194.7 L243.0,191.8 L246.0,189.0 L249.0,186.3 L252.0,183.6 L255.0,181.0 L258.0,178.4 L261.0,175.7 L264.0,173.2 L267.0,170.6 L270.0,167.9 L273.0,165.4 L276.0,162.8 L279.0,160.3 L282.0,157.7 L285.0,155.1 L288.0,152.4 L291.0,149.8 L294.0,147.2 L297.0,144.7 L300.0,142.1 L303.0,139.4 L306.0,136.8 L309.0,134.1 L312.0,131.7 L315.0,129.4 L318.0,127.1 L321.0,124.8 L324.0,122.7 L327.0,120.5 L330.0,118.4 L333.0,115.9 L336.0,113.5 L339.0,111.6 L342.0,109.7 L345.0,108.0 L348.0,106.3 L351.0,104.6 L354.0,103.0 L357.0,101.4 L360.0,99.8 L363.0,98.3 L366.0,96.9 L369.0,95.8 L372.0,94.7 L375.0,93.6 L378.0,92.5 L381.0,91.4 L384.0,90.3 L387.0,89.3 L390.0,88.2 L393.0,87.7 L396.0,87.2 L399.0,86.7 L402.0,86.2 L405.0,85.6 L408.0,85.1 L411.0,84.5 L414.0,84.0 L417.0,83.5 L420.0,82.9 L423.0,82.3 L426.0,81.7 L429.0,81.1 L432.0,80.5 L435.0,80.0 L438.0,79.5 L441.0,78.9 L444.0,78.4 L447.0,77.8 L450.0,77.3 L453.0,76.8 L456.0,76.3 L459.0,76.5 L462.0,76.8 L465.0,77.0 L468.0,77.3 L471.0,77.6 L474.0,77.9 L477.0,78.2 L480.0,78.5 L483.0,79.5 L486.0,80.4 L489.0,81.3 L492.0,82.2 L495.0,83.1 L498.0,84.0 L501.0,85.1 L504.0,86.6 L507.0,88.1 L510.0,89.5 L513.0,90.9 L516.0,92.3 L519.0,93.6 L522.0,95.1 L525.0,96.6 L528.0,98.2 L531.0,99.8 L534.0,101.3 L537.0,103.3 L540.0,105.5 L543.0,107.7 L546.0,110.0 L549.0,112.6 L552.0,115.2 L555.0,117.8 L558.0,121.0 L561.0,124.4 L564.0,127.7 L567.0,131.7 L570.0,136.3 L573.0,140.9 L576.0,145.4 L579.0,149.6 L582.0,154.0 L585.0,158.5 L588.0,163.1 L591.0,167.7 L594.0,173.4 L597.0,178.7 L600.0,183.9 L603.0,189.1 L605.5,192.7" stroke-opacity="0.23"/>
<path d="M66.0,199.3 L69.0,202.1 L72.0,205.0 L75.0,207.8 L78.0,210.7 L81.0,213.5 L84.0,216.3 L87.0,219.1 L90.0,221.9 L93.0,224.7 L96.0,227.5 L99.0,230.2 L102.0,232.2 L105.0,233.8 L108.0,235.4 L111.0,236.9 L114.0,238.4 L117.0,239.9 L120.0,241.4 L123.0,242.9 L126.0,244.3 L129.0,245.5 L132.0,246.3 L135.0,246.8 L138.0,247.2 L141.0,247.5 L144.0,247.8 L147.0,248.1 L150.0,248.3 L153.0,247.7 L156.0,247.1 L159.0,246.5 L162.0,245.9 L165.0,245.2 L168.0,244.5 L171.0,243.7 L174.0,242.4 L177.0,241.1 L180.0,239.7 L183.0,238.4 L186.0,237.1 L189.0,235.8 L192.0,234.0 L195.0,231.8 L198.0,229.7 L201.0,227.6 L204.0,225.5 L207.0,223.3 L210.0,221.2 L213.0,219.3 L216.0,217.4 L219.0,215.4 L222.0,213.5 L225.0,211.5 L228.0,209.4 L231.0,207.2 L234.0,204.6 L237.0,202.1 L240.0,199.4 L243.0,196.8 L246.0,194.1 L249.0,191.5 L252.0,188.8 L255.0,186.1 L258.0,183.4 L261.0,180.7 L264.0,178.0 L267.0,175.3 L270.0,172.6 L273.0,170.1 L276.0,167.7 L279.0,165.2 L282.0,162.7 L285.0,160.3 L288.0,157.9 L291.0,155.5 L294.0,153.1 L297.0,150.7 L300.0,148.4 L303.0,146.0 L306.0,143.7 L309.0,141.3 L312.0,139.4 L315.0,137.7 L318.0,135.9 L321.0,134.2 L324.0,132.5 L327.0,130.8 L330.0,129.0 L333.0,126.6 L336.0,124.2 L339.0,121.9 L342.0,119.5 L345.0,117.2 L348.0,114.8 L351.0,112.7 L354.0,110.7 L357.0,108.8 L360.0,106.8 L363.0,104.9 L366.0,102.9 L369.0,101.0 L372.0,99.2 L375.0,97.3 L378.0,95.4 L381.0,93.6 L384.0,91.8 L387.0,90.0 L390.0,88.4 L393.0,87.3 L396.0,86.3 L399.0,85.3 L402.0,84.3 L405.0,83.4 L408.0,82.5 L411.0,81.6 L414.0,80.8 L417.0,80.0 L420.0,79.3 L423.0,78.5 L426.0,77.8 L429.0,77.1 L432.0,76.4 L435.0,75.8 L438.0,75.2 L441.0,74.6 L444.0,74.0 L447.0,73.5 L450.0,73.1 L453.0,72.6 L456.0,72.1 L459.0,72.3 L462.0,72.4 L465.0,72.5 L468.0,72.7 L471.0,72.8 L474.0,73.0 L477.0,73.2 L480.0,73.4 L483.0,74.1 L486.0,74.8 L489.0,75.5 L492.0,76.3 L495.0,77.0 L498.0,77.7 L501.0,78.7 L504.0,80.0 L507.0,81.4 L510.0,82.8 L513.0,84.2 L516.0,85.6 L519.0,87.1 L522.0,88.7 L525.0,90.3 L528.0,92.3 L531.0,94.3 L534.0,96.3 L537.0,98.6 L540.0,101.1 L543.0,103.8 L546.0,106.6 L549.0,109.6 L552.0,112.8 L555.0,116.0 L558.0,119.7 L561.0,123.7 L564.0,127.6 L567.0,132.2 L570.0,137.5 L573.0,142.7 L576.0,147.9 L579.0,152.7 L582.0,157.7 L585.0,162.6 L588.0,167.5 L591.0,172.4 L594.0,178.1 L597.0,183.2 L600.0,188.1 L603.0,193.0 L605.5,196.3" stroke-opacity="0.23"/>
<path d="M66.0,204.7 L69.0,207.1 L72.0,209.4 L75.0,211.7 L78.0,214.0 L81.0,216.3 L84.0,218.5 L87.0,220.7 L90.0,222.8 L93.0,225.0 L96.0,227.1 L99.0,229.3 L102.0,230.7 L105.0,231.7 L108.0,232.8 L111.0,233.9 L114.0,235.0 L117.0,236.1 L120.0,237.3 L123.0,238.4 L126.0,239.5 L129.0,240.5 L132.0,241.2 L135.0,241.7 L138.0,242.1 L141.0,242.3 L144.0,242.6 L147.0,242.9 L150.0,243.1 L153.0,242.6 L156.0,242.0 L159.0,241.5 L162.0,240.9 L165.0,240.1 L168.0,239.4 L171.0,238.5 L174.0,237.3 L177.0,235.8 L180.0,234.4 L183.0,232.8 L186.0,231.2 L189.0,229.7 L192.0,227.6 L195.0,225.3 L198.0,223.0 L201.0,220.6 L204.0,218.3 L207.0,215.9 L210.0,213.5 L213.0,211.3 L216.0,209.1 L219.0,206.8 L222.0,204.5 L225.0,202.1 L228.0,199.8 L231.0,197.3 L234.0,194.7 L237.0,192.0 L240.0,189.4 L243.0,186.8 L246.0,184.3 L249.0,182.0 L252.0,179.6 L255.0,177.3 L258.0,175.1 L261.0,172.9 L264.0,170.7 L267.0,168.6 L270.0,166.4 L273.0,164.3 L276.0,162.2 L279.0,160.2 L282.0,158.3 L285.0,156.3 L288.0,154.4 L291.0,152.6 L294.0,150.8 L297.0,149.0 L300.0,147.2 L303.0,145.3 L306.0,143.4 L309.0,141.5 L312.0,139.9 L315.0,138.6 L318.0,137.2 L321.0,135.8 L324.0,134.4 L327.0,132.9 L330.0,131.3 L333.0,129.1 L336.0,126.8 L339.0,124.5 L342.0,122.1 L345.0,119.8 L348.0,117.4 L351.0,115.2 L354.0,113.4 L357.0,111.6 L360.0,109.7 L363.0,107.9 L366.0,106.0 L369.0,104.2 L372.0,102.4 L375.0,100.6 L378.0,98.7 L381.0,96.9 L384.0,95.1 L387.0,93.4 L390.0,91.7 L393.0,90.8 L396.0,89.9 L399.0,89.0 L402.0,88.2 L405.0,87.4 L408.0,86.6 L411.0,85.8 L414.0,85.1 L417.0,84.5 L420.0,83.8 L423.0,83.2 L426.0,82.5 L429.0,81.9 L432.0,81.3 L435.0,80.8 L438.0,80.2 L441.0,79.7 L444.0,79.1 L447.0,78.5 L450.0,78.0 L453.0,77.4 L456.0,76.8 L459.0,76.9 L462.0,77.0 L465.0,77.1 L468.0,77.1 L471.0,77.2 L474.0,77.2 L477.0,77.3 L480.0,77.3 L483.0,77.9 L486.0,78.5 L489.0,79.1 L492.0,79.7 L495.0,80.3 L498.0,80.9 L501.0,81.7 L504.0,82.8 L507.0,84.0 L510.0,85.3 L513.0,86.5 L516.0,87.8 L519.0,89.0 L522.0,90.5 L525.0,92.0 L528.0,93.7 L531.0,95.6 L534.0,97.4 L537.0,99.6 L540.0,102.1 L543.0,104.6 L546.0,107.4 L549.0,110.4 L552.0,113.5 L555.0,116.6 L558.0,120.4 L561.0,124.4 L564.0,128.3 L567.0,133.0 L570.0,138.4 L573.0,143.7 L576.0,148.9 L579.0,153.8 L582.0,158.7 L585.0,163.7 L588.0,168.6 L591.0,173.4 L594.0,178.9 L597.0,183.9 L600.0,188.6 L603.0,193.3 L605.5,196.3" stroke-opacity="0.23"/>
<path d="M66.0,205.2 L69.0,207.5 L72.0,209.8 L75.0,212.0 L78.0,214.2 L81.0,216.5 L84.0,218.6 L87.0,220.8 L90.0,223.0 L93.0,225.3 L96.0,227.6 L99.0,229.9 L102.0,231.6 L105.0,232.9 L108.0,234.3 L111.0,235.8 L114.0,237.2 L117.0,238.7 L120.0,240.2 L123.0,241.7 L126.0,243.1 L129.0,244.4 L132.0,245.1 L135.0,245.6 L138.0,246.0 L141.0,246.2 L144.0,246.3 L147.0,246.4 L150.0,246.4 L153.0,245.5 L156.0,244.6 L159.0,243.6 L162.0,242.7 L165.0,241.5 L168.0,240.4 L171.0,239.2 L174.0,237.6 L177.0,235.9 L180.0,234.3 L183.0,232.7 L186.0,231.1 L189.0,229.6 L192.0,227.7 L195.0,225.6 L198.0,223.5 L201.0,221.4 L204.0,219.3 L207.0,217.2 L210.0,215.1 L213.0,213.1 L216.0,211.0 L219.0,208.8 L222.0,206.6 L225.0,204.2 L228.0,201.8 L231.0,199.3 L234.0,196.5 L237.0,193.8 L240.0,191.0 L243.0,188.3 L246.0,185.8 L249.0,183.4 L252.0,181.0 L255.0,178.8 L258.0,176.6 L261.0,174.5 L264.0,172.4 L267.0,170.4 L270.0,168.3 L273.0,166.3 L276.0,164.4 L279.0,162.4 L282.0,160.4 L285.0,158.4 L288.0,156.2 L291.0,154.1 L294.0,151.8 L297.0,149.5 L300.0,147.1 L303.0,144.6 L306.0,142.1 L309.0,139.5 L312.0,137.3 L315.0,135.4 L318.0,133.4 L321.0,131.5 L324.0,129.7 L327.0,128.0 L330.0,126.3 L333.0,124.2 L336.0,122.1 L339.0,120.3 L342.0,118.5 L345.0,116.7 L348.0,114.8 L351.0,113.1 L354.0,111.7 L357.0,110.2 L360.0,108.7 L363.0,107.2 L366.0,105.5 L369.0,103.9 L372.0,102.2 L375.0,100.3 L378.0,98.4 L381.0,96.5 L384.0,94.6 L387.0,92.7 L390.0,90.9 L393.0,89.8 L396.0,88.7 L399.0,87.6 L402.0,86.6 L405.0,85.7 L408.0,84.8 L411.0,84.0 L414.0,83.3 L417.0,82.6 L420.0,82.0 L423.0,81.4 L426.0,80.8 L429.0,80.1 L432.0,79.6 L435.0,79.1 L438.0,78.5 L441.0,77.9 L444.0,77.2 L447.0,76.6 L450.0,76.0 L453.0,75.3 L456.0,74.6 L459.0,74.6 L462.0,74.6 L465.0,74.6 L468.0,74.7 L471.0,74.7 L474.0,74.9 L477.0,75.0 L480.0,75.2 L483.0,76.0 L486.0,76.9 L489.0,77.8 L492.0,78.7 L495.0,79.6 L498.0,80.6 L501.0,81.8 L504.0,83.4 L507.0,84.9 L510.0,86.5 L513.0,88.0 L516.0,89.5 L519.0,91.0 L522.0,92.5 L525.0,94.1 L528.0,95.8 L531.0,97.5 L534.0,99.2 L537.0,101.3 L540.0,103.6 L543.0,105.9 L546.0,108.4 L549.0,111.2 L552.0,114.2 L555.0,117.2 L558.0,120.8 L561.0,124.8 L564.0,128.8 L567.0,133.6 L570.0,139.2 L573.0,144.8 L576.0,150.4 L579.0,155.8 L582.0,161.2 L585.0,166.7 L588.0,172.1 L591.0,177.5 L594.0,183.3 L597.0,188.5 L600.0,193.2 L603.0,197.8 L605.5,200.8" stroke-opacity="0.23"/>
<path d="M66.0,201.6 L69.0,204.2 L72.0,206.7 L75.0,209.2 L78.0,211.7 L81.0,214.2 L84.0,216.7 L87.0,219.0 L90.0,221.4 L93.0,223.8 L96.0,226.2 L99.0,228.6 L102.0,230.2 L105.0,231.5 L108.0,232.8 L111.0,234.1 L114.0,235.4 L117.0,236.8 L120.0,238.1 L123.0,239.6 L126.0,240.9 L129.0,242.1 L132.0,243.0 L135.0,243.6 L138.0,244.2 L141.0,244.7 L144.0,245.1 L147.0,245.6 L150.0,246.0 L153.0,245.6 L156.0,245.2 L159.0,244.8 L162.0,244.4 L165.0,243.8 L168.0,243.2 L171.0,242.4 L174.0,241.2 L177.0,239.8 L180.0,238.5 L183.0,237.0 L186.0,235.5 L189.0,234.0 L192.0,231.9 L195.0,229.5 L198.0,227.1 L201.0,224.7 L204.0,222.3 L207.0,219.9 L210.0,217.4 L213.0,215.3 L216.0,213.1 L219.0,210.9 L222.0,208.7 L225.0,206.5 L228.0,204.3 L231.0,202.1 L234.0,199.6 L237.0,197.2 L240.0,194.8 L243.0,192.4 L246.0,190.1 L249.0,187.8 L252.0,185.6 L255.0,183.4 L258.0,181.1 L261.0,178.9 L264.0,176.7 L267.0,174.4 L270.0,172.1 L273.0,170.0 L276.0,167.9 L279.0,165.7 L282.0,163.5 L285.0,161.3 L288.0,159.0 L291.0,156.7 L294.0,154.3 L297.0,151.9 L300.0,149.4 L303.0,146.9 L306.0,144.3 L309.0,141.7 L312.0,139.5 L315.0,137.5 L318.0,135.4 L321.0,133.4 L324.0,131.4 L327.0,129.3 L330.0,127.3 L333.0,124.7 L336.0,122.1 L339.0,119.8 L342.0,117.5 L345.0,115.3 L348.0,113.1 L351.0,111.1 L354.0,109.3 L357.0,107.6 L360.0,105.9 L363.0,104.2 L366.0,102.5 L369.0,100.9 L372.0,99.4 L375.0,97.8 L378.0,96.2 L381.0,94.7 L384.0,93.1 L387.0,91.5 L390.0,89.9 L393.0,89.0 L396.0,88.1 L399.0,87.2 L402.0,86.2 L405.0,85.3 L408.0,84.3 L411.0,83.4 L414.0,82.5 L417.0,81.6 L420.0,80.7 L423.0,79.8 L426.0,78.9 L429.0,78.0 L432.0,77.1 L435.0,76.4 L438.0,75.6 L441.0,74.9 L444.0,74.1 L447.0,73.5 L450.0,73.0 L453.0,72.5 L456.0,72.0 L459.0,72.2 L462.0,72.5 L465.0,72.7 L468.0,73.0 L471.0,73.3 L474.0,73.7 L477.0,74.1 L480.0,74.6 L483.0,75.5 L486.0,76.5 L489.0,77.5 L492.0,78.5 L495.0,79.4 L498.0,80.4 L501.0,81.6 L504.0,83.2 L507.0,84.7 L510.0,86.3 L513.0,87.8 L516.0,89.3 L519.0,90.8 L522.0,92.4 L525.0,94.1 L528.0,95.9 L531.0,97.8 L534.0,99.6 L537.0,101.9 L540.0,104.3 L543.0,106.9 L546.0,109.5 L549.0,112.5 L552.0,115.5 L555.0,118.6 L558.0,122.4 L561.0,126.3 L564.0,130.3 L567.0,135.1 L570.0,140.6 L573.0,146.2 L576.0,151.6 L579.0,156.9 L582.0,162.2 L585.0,167.7 L588.0,173.1 L591.0,178.7 L594.0,184.7 L597.0,190.1 L600.0,195.1 L603.0,200.1 L605.5,203.4" stroke-opacity="0.23"/>
<path d="M66.0,205.6 L69.0,207.9 L72.0,210.2 L75.0,212.4 L78.0,214.7 L81.0,217.0 L84.0,219.4 L87.0,222.0 L90.0,224.7 L93.0,227.5 L96.0,230.4 L99.0,233.4 L102.0,235.7 L105.0,237.6 L108.0,239.5 L111.0,241.2 L114.0,242.8 L117.0,244.2 L120.0,245.5 L123.0,246.7 L126.0,247.7 L129.0,248.6 L132.0,248.9 L135.0,248.8 L138.0,248.8 L141.0,248.8 L144.0,249.0 L147.0,249.2 L150.0,249.5 L153.0,249.1 L156.0,248.8 L159.0,248.6 L162.0,248.3 L165.0,248.0 L168.0,247.6 L171.0,246.9 L174.0,245.5 L177.0,243.9 L180.0,242.1 L183.0,240.2 L186.0,238.0 L189.0,235.7 L192.0,232.8 L195.0,229.6 L198.0,226.5 L201.0,223.6 L204.0,220.9 L207.0,218.4 L210.0,216.1 L213.0,214.2 L216.0,212.4 L219.0,210.6 L222.0,208.8 L225.0,206.8 L228.0,204.8 L231.0,202.4 L234.0,199.6 L237.0,196.6 L240.0,193.4 L243.0,190.0 L246.0,186.6 L249.0,183.3 L252.0,180.1 L255.0,176.9 L258.0,174.0 L261.0,171.3 L264.0,168.8 L267.0,166.5 L270.0,164.3 L273.0,162.1 L276.0,160.1 L279.0,158.1 L282.0,156.1 L285.0,154.0 L288.0,151.7 L291.0,149.2 L294.0,146.7 L297.0,144.0 L300.0,141.2 L303.0,138.3 L306.0,135.4 L309.0,132.5 L312.0,129.9 L315.0,127.6 L318.0,125.5 L321.0,123.6 L324.0,122.1 L327.0,120.8 L330.0,119.7 L333.0,118.3 L336.0,116.8 L339.0,115.7 L342.0,114.4 L345.0,112.9 L348.0,111.2 L351.0,109.4 L354.0,107.6 L357.0,105.7 L360.0,103.7 L363.0,101.7 L366.0,99.6 L369.0,97.8 L372.0,96.2 L375.0,94.7 L378.0,93.3 L381.0,92.1 L384.0,91.0 L387.0,90.0 L390.0,89.0 L393.0,88.7 L396.0,88.4 L399.0,88.0 L402.0,87.5 L405.0,86.9 L408.0,86.2 L411.0,85.4 L414.0,84.6 L417.0,83.7 L420.0,82.7 L423.0,81.7 L426.0,80.8 L429.0,79.9 L432.0,79.2 L435.0,78.7 L438.0,78.3 L441.0,78.0 L444.0,77.8 L447.0,77.8 L450.0,77.7 L453.0,77.6 L456.0,77.5 L459.0,78.0 L462.0,78.5 L465.0,78.8 L468.0,79.0 L471.0,79.1 L474.0,79.2 L477.0,79.2 L480.0,79.1 L483.0,79.7 L486.0,80.3 L489.0,81.0 L492.0,81.8 L495.0,82.7 L498.0,83.7 L501.0,84.9 L504.0,86.7 L507.0,88.5 L510.0,90.3 L513.0,92.0 L516.0,93.7 L519.0,95.3 L522.0,97.0 L525.0,98.6 L528.0,100.1 L531.0,101.6 L534.0,102.9 L537.0,104.8 L540.0,106.9 L543.0,109.0 L546.0,111.3 L549.0,114.0 L552.0,117.0 L555.0,120.0 L558.0,123.9 L561.0,128.1 L564.0,132.4 L567.0,137.7 L570.0,143.6 L573.0,149.4 L576.0,154.9 L579.0,159.9 L582.0,164.6 L585.0,169.1 L588.0,173.3 L591.0,177.3 L594.0,181.7 L597.0,185.6 L600.0,189.3 L603.0,193.3 L605.5,196.1" stroke-opacity="0.24"/>
<path d="M66.0,206.4 L69.0,208.9 L72.0,211.4 L75.0,214.0 L78.0,216.6 L81.0,219.2 L84.0,221.8 L87.0,224.5 L90.0,227.1 L93.0,229.8 L96.0,232.5 L99.0,235.2 L102.0,237.1 L105.0,238.6 L108.0,240.0 L111.0,241.5 L114.0,242.9 L117.0,244.3 L120.0,245.6 L123.0,246.9 L126.0,248.1 L129.0,249.2 L132.0,249.7 L135.0,249.8 L138.0,249.8 L141.0,249.8 L144.0,249.7 L147.0,249.6 L150.0,249.5 L153.0,248.4 L156.0,247.3 L159.0,246.3 L162.0,245.2 L165.0,243.9 L168.0,242.7 L171.0,241.3 L174.0,239.5 L177.0,237.6 L180.0,235.8 L183.0,233.8 L186.0,231.9 L189.0,230.1 L192.0,227.8 L195.0,225.3 L198.0,222.8 L201.0,220.4 L204.0,218.1 L207.0,215.7 L210.0,213.4 L213.0,211.2 L216.0,209.0 L219.0,206.8 L222.0,204.5 L225.0,202.1 L228.0,199.7 L231.0,197.2 L234.0,194.4 L237.0,191.6 L240.0,188.8 L243.0,186.0 L246.0,183.3 L249.0,180.7 L252.0,178.1 L255.0,175.6 L258.0,173.1 L261.0,170.6 L264.0,168.3 L267.0,166.0 L270.0,163.6 L273.0,161.3 L276.0,159.1 L279.0,157.0 L282.0,155.0 L285.0,153.0 L288.0,151.1 L291.0,149.3 L294.0,147.6 L297.0,146.0 L300.0,144.3 L303.0,142.7 L306.0,141.0 L309.0,139.2 L312.0,137.7 L315.0,136.5 L318.0,135.1 L321.0,133.8 L324.0,132.4 L327.0,131.0 L330.0,129.5 L333.0,127.3 L336.0,125.1 L339.0,122.9 L342.0,120.7 L345.0,118.5 L348.0,116.2 L351.0,114.2 L354.0,112.5 L357.0,110.8 L360.0,109.1 L363.0,107.5 L366.0,105.8 L369.0,104.3 L372.0,102.7 L375.0,101.2 L378.0,99.6 L381.0,98.0 L384.0,96.5 L387.0,94.9 L390.0,93.3 L393.0,92.6 L396.0,91.8 L399.0,91.0 L402.0,90.2 L405.0,89.3 L408.0,88.5 L411.0,87.6 L414.0,86.7 L417.0,85.9 L420.0,85.0 L423.0,84.0 L426.0,83.0 L429.0,82.0 L432.0,81.0 L435.0,80.1 L438.0,79.2 L441.0,78.2 L444.0,77.3 L447.0,76.4 L450.0,75.6 L453.0,74.8 L456.0,74.0 L459.0,74.0 L462.0,74.0 L465.0,74.1 L468.0,74.1 L471.0,74.3 L474.0,74.5 L477.0,74.7 L480.0,75.0 L483.0,75.8 L486.0,76.7 L489.0,77.5 L492.0,78.4 L495.0,79.3 L498.0,80.2 L501.0,81.3 L504.0,82.7 L507.0,84.1 L510.0,85.6 L513.0,87.0 L516.0,88.4 L519.0,89.7 L522.0,91.2 L525.0,92.7 L528.0,94.4 L531.0,96.2 L534.0,97.9 L537.0,100.0 L540.0,102.3 L543.0,104.7 L546.0,107.3 L549.0,110.2 L552.0,113.2 L555.0,116.3 L558.0,120.0 L561.0,123.9 L564.0,128.0 L567.0,132.8 L570.0,138.4 L573.0,144.1 L576.0,149.8 L579.0,155.3 L582.0,161.1 L585.0,166.8 L588.0,172.7 L591.0,178.6 L594.0,185.0 L597.0,190.6 L600.0,195.8 L603.0,200.9 L605.5,204.4" stroke-opacity="0.24"/>
<path d="M66.0,208.4 L69.0,210.9 L72.0,213.4 L75.0,215.8 L78.0,218.2 L81.0,220.6 L84.0,223.0 L87.0,225.3 L90.0,227.6 L93.0,230.0 L96.0,232.3 L99.0,234.7 L102.0,236.3 L105.0,237.5 L108.0,238.8 L111.0,240.0 L114.0,241.3 L117.0,242.6 L120.0,243.9 L123.0,245.2 L126.0,246.5 L129.0,247.8 L132.0,248.5 L135.0,248.9 L138.0,249.2 L141.0,249.5 L144.0,249.8 L147.0,250.0 L150.0,250.2 L153.0,249.5 L156.0,248.8 L159.0,248.1 L162.0,247.3 L165.0,246.4 L168.0,245.4 L171.0,244.2 L174.0,242.6 L177.0,240.8 L180.0,239.0 L183.0,237.1 L186.0,235.1 L189.0,233.2 L192.0,230.7 L195.0,227.9 L198.0,225.2 L201.0,222.5 L204.0,219.9 L207.0,217.4 L210.0,214.9 L213.0,212.7 L216.0,210.5 L219.0,208.4 L222.0,206.2 L225.0,204.2 L228.0,202.1 L231.0,200.0 L234.0,197.7 L237.0,195.5 L240.0,193.3 L243.0,191.1 L246.0,189.0 L249.0,186.9 L252.0,184.8 L255.0,182.6 L258.0,180.5 L261.0,178.3 L264.0,176.1 L267.0,173.8 L270.0,171.5 L273.0,169.3 L276.0,167.1 L279.0,164.9 L282.0,162.7 L285.0,160.4 L288.0,158.1 L291.0,155.8 L294.0,153.4 L297.0,151.1 L300.0,148.7 L303.0,146.4 L306.0,144.0 L309.0,141.7 L312.0,139.8 L315.0,138.1 L318.0,136.5 L321.0,134.8 L324.0,133.3 L327.0,131.8 L330.0,130.3 L333.0,128.1 L336.0,126.0 L339.0,123.9 L342.0,121.9 L345.0,119.8 L348.0,117.6 L351.0,115.7 L354.0,114.2 L357.0,112.6 L360.0,111.0 L363.0,109.4 L366.0,107.7 L369.0,106.1 L372.0,104.3 L375.0,102.4 L378.0,100.6 L381.0,98.6 L384.0,96.7 L387.0,94.8 L390.0,92.8 L393.0,91.7 L396.0,90.6 L399.0,89.4 L402.0,88.3 L405.0,87.2 L408.0,86.0 L411.0,85.0 L414.0,84.0 L417.0,83.0 L420.0,82.1 L423.0,81.2 L426.0,80.4 L429.0,79.5 L432.0,78.8 L435.0,78.2 L438.0,77.5 L441.0,77.0 L444.0,76.4 L447.0,75.9 L450.0,75.5 L453.0,75.1 L456.0,74.7 L459.0,75.0 L462.0,75.4 L465.0,75.7 L468.0,76.0 L471.0,76.3 L474.0,76.7 L477.0,77.0 L480.0,77.4 L483.0,78.3 L486.0,79.2 L489.0,80.0 L492.0,80.9 L495.0,81.8 L498.0,82.6 L501.0,83.7 L504.0,85.1 L507.0,86.5 L510.0,88.0 L513.0,89.4 L516.0,90.9 L519.0,92.4 L522.0,94.1 L525.0,95.8 L528.0,97.7 L531.0,99.7 L534.0,101.6 L537.0,104.1 L540.0,106.9 L543.0,109.7 L546.0,112.6 L549.0,115.9 L552.0,119.4 L555.0,122.9 L558.0,127.1 L561.0,131.6 L564.0,136.1 L567.0,141.6 L570.0,147.8 L573.0,153.9 L576.0,159.9 L579.0,165.4 L582.0,171.0 L585.0,176.4 L588.0,181.8 L591.0,187.2 L594.0,192.5 L597.0,197.0 L600.0,201.1 L603.0,205.2 L605.5,207.8" stroke-opacity="0.25"/>
<path d="M66.0,206.3 L69.0,209.0 L72.0,211.5 L75.0,213.9 L78.0,216.2 L81.0,218.4 L84.0,220.6 L87.0,222.8 L90.0,225.1 L93.0,227.4 L96.0,229.8 L99.0,232.3 L102.0,234.2 L105.0,235.8 L108.0,237.4 L111.0,239.2 L114.0,240.9 L117.0,242.7 L120.0,244.4 L123.0,246.0 L126.0,247.5 L129.0,248.9 L132.0,249.6 L135.0,249.9 L138.0,250.0 L141.0,250.1 L144.0,250.1 L147.0,250.1 L150.0,250.1 L153.0,249.3 L156.0,248.5 L159.0,247.9 L162.0,247.3 L165.0,246.7 L168.0,246.3 L171.0,245.8 L174.0,244.9 L177.0,243.9 L180.0,243.0 L183.0,241.9 L186.0,240.8 L189.0,239.6 L192.0,237.6 L195.0,235.1 L198.0,232.4 L201.0,229.6 L204.0,226.8 L207.0,223.9 L210.0,221.1 L213.0,218.6 L216.0,216.2 L219.0,213.9 L222.0,211.8 L225.0,209.8 L228.0,207.9 L231.0,206.1 L234.0,204.0 L237.0,202.0 L240.0,199.9 L243.0,197.8 L246.0,195.6 L249.0,193.2 L252.0,190.7 L255.0,188.0 L258.0,185.2 L261.0,182.2 L264.0,179.2 L267.0,176.2 L270.0,173.1 L273.0,170.3 L276.0,167.7 L279.0,165.1 L282.0,162.6 L285.0,160.3 L288.0,158.2 L291.0,156.2 L294.0,154.3 L297.0,152.3 L300.0,150.4 L303.0,148.4 L306.0,146.3 L309.0,144.1 L312.0,142.1 L315.0,140.3 L318.0,138.3 L321.0,136.1 L324.0,133.9 L327.0,131.6 L330.0,129.3 L333.0,126.4 L336.0,123.6 L339.0,121.1 L342.0,118.8 L345.0,116.6 L348.0,114.6 L351.0,112.8 L354.0,111.4 L357.0,110.1 L360.0,108.7 L363.0,107.4 L366.0,105.9 L369.0,104.4 L372.0,102.8 L375.0,101.0 L378.0,99.1 L381.0,97.1 L384.0,95.0 L387.0,93.0 L390.0,91.0 L393.0,89.7 L396.0,88.5 L399.0,87.4 L402.0,86.4 L405.0,85.5 L408.0,84.7 L411.0,84.0 L414.0,83.4 L417.0,82.9 L420.0,82.5 L423.0,82.0 L426.0,81.4 L429.0,80.8 L432.0,80.2 L435.0,79.6 L438.0,78.9 L441.0,78.1 L444.0,77.3 L447.0,76.4 L450.0,75.6 L453.0,74.8 L456.0,74.1 L459.0,74.2 L462.0,74.3 L465.0,74.5 L468.0,74.7 L471.0,75.1 L474.0,75.6 L477.0,76.2 L480.0,76.7 L483.0,77.8 L486.0,78.9 L489.0,79.9 L492.0,80.9 L495.0,81.8 L498.0,82.6 L501.0,83.6 L504.0,84.8 L507.0,86.0 L510.0,87.2 L513.0,88.3 L516.0,89.5 L519.0,90.8 L522.0,92.2 L525.0,93.9 L528.0,95.8 L531.0,97.8 L534.0,99.8 L537.0,102.4 L540.0,105.3 L543.0,108.3 L546.0,111.3 L549.0,114.6 L552.0,118.0 L555.0,121.3 L558.0,125.1 L561.0,129.1 L564.0,132.9 L567.0,137.5 L570.0,142.6 L573.0,147.7 L576.0,152.5 L579.0,157.1 L582.0,161.9 L585.0,166.9 L588.0,172.1 L591.0,177.5 L594.0,183.6 L597.0,189.2 L600.0,194.5 L603.0,199.8 L605.5,203.4" stroke-opacity="0.25"/>
<path d="M66.0,208.6 L69.0,211.4 L72.0,214.1 L75.0,216.9 L78.0,219.6 L81.0,222.3 L84.0,224.8 L87.0,227.3 L90.0,229.8 L93.0,232.1 L96.0,234.4 L99.0,236.6 L102.0,238.0 L105.0,238.9 L108.0,239.9 L111.0,240.8 L114.0,241.8 L117.0,242.9 L120.0,244.0 L123.0,245.2 L126.0,246.4 L129.0,247.6 L132.0,248.3 L135.0,248.7 L138.0,249.2 L141.0,249.5 L144.0,249.9 L147.0,250.2 L150.0,250.5 L153.0,249.8 L156.0,249.0 L159.0,248.2 L162.0,247.3 L165.0,246.2 L168.0,245.0 L171.0,243.6 L174.0,241.7 L177.0,239.8 L180.0,237.8 L183.0,235.8 L186.0,233.9 L189.0,232.0 L192.0,229.7 L195.0,227.3 L198.0,225.0 L201.0,222.8 L204.0,220.6 L207.0,218.5 L210.0,216.4 L213.0,214.5 L216.0,212.5 L219.0,210.5 L222.0,208.3 L225.0,206.0 L228.0,203.7 L231.0,201.1 L234.0,198.3 L237.0,195.4 L240.0,192.5 L243.0,189.7 L246.0,186.9 L249.0,184.4 L252.0,181.9 L255.0,179.5 L258.0,177.3 L261.0,175.2 L264.0,173.1 L267.0,171.1 L270.0,169.1 L273.0,167.2 L276.0,165.4 L279.0,163.5 L282.0,161.6 L285.0,159.7 L288.0,157.6 L291.0,155.5 L294.0,153.2 L297.0,150.9 L300.0,148.4 L303.0,146.0 L306.0,143.5 L309.0,141.0 L312.0,139.0 L315.0,137.2 L318.0,135.5 L321.0,134.0 L324.0,132.5 L327.0,131.2 L330.0,130.0 L333.0,128.2 L336.0,126.4 L339.0,124.6 L342.0,122.8 L345.0,120.9 L348.0,118.9 L351.0,117.1 L354.0,115.6 L357.0,114.0 L360.0,112.3 L363.0,110.6 L366.0,108.7 L369.0,106.9 L372.0,104.9 L375.0,102.9 L378.0,100.9 L381.0,99.0 L384.0,97.1 L387.0,95.3 L390.0,93.5 L393.0,92.7 L396.0,91.9 L399.0,91.1 L402.0,90.4 L405.0,89.7 L408.0,88.9 L411.0,88.2 L414.0,87.5 L417.0,86.8 L420.0,86.0 L423.0,85.2 L426.0,84.3 L429.0,83.3 L432.0,82.4 L435.0,81.5 L438.0,80.6 L441.0,79.6 L444.0,78.7 L447.0,77.9 L450.0,77.2 L453.0,76.5 L456.0,75.9 L459.0,76.0 L462.0,76.3 L465.0,76.5 L468.0,76.8 L471.0,77.2 L474.0,77.5 L477.0,77.9 L480.0,78.2 L483.0,79.1 L486.0,79.9 L489.0,80.7 L492.0,81.4 L495.0,82.1 L498.0,82.7 L501.0,83.5 L504.0,84.6 L507.0,85.8 L510.0,87.0 L513.0,88.2 L516.0,89.5 L519.0,90.8 L522.0,92.4 L525.0,94.1 L528.0,96.0 L531.0,98.0 L534.0,100.0 L537.0,102.5 L540.0,105.3 L543.0,108.1 L546.0,111.0 L549.0,114.2 L552.0,117.5 L555.0,120.7 L558.0,124.5 L561.0,128.5 L564.0,132.4 L567.0,137.1 L570.0,142.4 L573.0,147.6 L576.0,152.7 L579.0,157.6 L582.0,162.6 L585.0,167.7 L588.0,173.0 L591.0,178.4 L594.0,184.5 L597.0,190.0 L600.0,195.2 L603.0,200.5 L605.5,204.0" stroke-opacity="0.25"/>
<path d="M66.0,202.5 L69.0,204.6 L72.0,206.7 L75.0,208.9 L78.0,211.1 L81.0,213.5 L84.0,215.9 L87.0,218.4 L90.0,221.0 L93.0,223.7 L96.0,226.4 L99.0,229.2 L102.0,231.3 L105.0,233.0 L108.0,234.7 L111.0,236.3 L114.0,237.9 L117.0,239.4 L120.0,240.9 L123.0,242.2 L126.0,243.4 L129.0,244.5 L132.0,244.9 L135.0,245.1 L138.0,245.2 L141.0,245.2 L144.0,245.1 L147.0,245.0 L150.0,244.9 L153.0,244.0 L156.0,243.2 L159.0,242.4 L162.0,241.7 L165.0,240.9 L168.0,240.1 L171.0,239.4 L174.0,238.3 L177.0,237.2 L180.0,236.1 L183.0,234.9 L186.0,233.8 L189.0,232.8 L192.0,231.1 L195.0,229.1 L198.0,227.0 L201.0,224.8 L204.0,222.5 L207.0,220.1 L210.0,217.6 L213.0,215.3 L216.0,212.8 L219.0,210.4 L222.0,207.8 L225.0,205.3 L228.0,202.8 L231.0,200.3 L234.0,197.7 L237.0,195.1 L240.0,192.7 L243.0,190.5 L246.0,188.4 L249.0,186.5 L252.0,184.7 L255.0,182.9 L258.0,181.1 L261.0,179.4 L264.0,177.6 L267.0,175.8 L270.0,173.8 L273.0,172.0 L276.0,170.1 L279.0,168.2 L282.0,166.1 L285.0,163.8 L288.0,161.5 L291.0,159.0 L294.0,156.3 L297.0,153.7 L300.0,151.0 L303.0,148.3 L306.0,145.6 L309.0,143.0 L312.0,141.0 L315.0,139.3 L318.0,137.7 L321.0,136.2 L324.0,134.9 L327.0,133.7 L330.0,132.7 L333.0,130.9 L336.0,129.2 L339.0,126.8 L342.0,124.4 L345.0,122.0 L348.0,119.6 L351.0,117.5 L354.0,115.8 L357.0,114.2 L360.0,112.5 L363.0,110.8 L366.0,109.2 L369.0,107.5 L372.0,105.8 L375.0,104.0 L378.0,102.2 L381.0,100.4 L384.0,98.6 L387.0,96.8 L390.0,95.0 L393.0,94.0 L396.0,93.1 L399.0,92.2 L402.0,91.4 L405.0,90.5 L408.0,89.6 L411.0,88.8 L414.0,88.0 L417.0,87.2 L420.0,86.5 L423.0,85.8 L426.0,85.0 L429.0,84.2 L432.0,83.6 L435.0,83.0 L438.0,82.5 L441.0,81.9 L444.0,81.3 L447.0,80.7 L450.0,80.2 L453.0,79.6 L456.0,79.0 L459.0,79.2 L462.0,79.1 L465.0,79.0 L468.0,79.0 L471.0,79.0 L474.0,79.1 L477.0,79.3 L480.0,79.6 L483.0,80.5 L486.0,81.5 L489.0,82.5 L492.0,83.6 L495.0,84.6 L498.0,85.7 L501.0,87.0 L504.0,88.6 L507.0,90.1 L510.0,91.7 L513.0,93.1 L516.0,94.4 L519.0,95.7 L522.0,97.1 L525.0,98.5 L528.0,99.9 L531.0,101.3 L534.0,102.7 L537.0,104.6 L540.0,106.7 L543.0,109.0 L546.0,111.3 L549.0,114.0 L552.0,116.9 L555.0,119.9 L558.0,123.5 L561.0,127.6 L564.0,131.7 L567.0,136.7 L570.0,142.5 L573.0,148.3 L576.0,154.0 L579.0,159.4 L582.0,164.8 L585.0,170.2 L588.0,175.4 L591.0,180.5 L594.0,185.7 L597.0,190.2 L600.0,194.3 L603.0,198.3 L605.5,200.8" stroke-opacity="0.25"/>
<path d="M66.0,209.3 L69.0,211.7 L72.0,214.0 L75.0,216.2 L78.0,218.5 L81.0,220.9 L84.0,223.2 L87.0,225.6 L90.0,228.0 L93.0,230.4 L96.0,233.0 L99.0,235.5 L102.0,237.3 L105.0,238.8 L108.0,240.2 L111.0,241.7 L114.0,243.2 L117.0,244.6 L120.0,246.0 L123.0,247.4 L126.0,248.8 L129.0,250.1 L132.0,250.7 L135.0,250.9 L138.0,251.1 L141.0,251.2 L144.0,251.3 L147.0,251.4 L150.0,251.4 L153.0,250.6 L156.0,249.8 L159.0,249.0 L162.0,248.2 L165.0,247.4 L168.0,246.6 L171.0,245.7 L174.0,244.3 L177.0,243.0 L180.0,241.6 L183.0,240.3 L186.0,239.0 L189.0,237.7 L192.0,235.8 L195.0,233.5 L198.0,231.1 L201.0,228.7 L204.0,226.3 L207.0,223.8 L210.0,221.2 L213.0,218.9 L216.0,216.5 L219.0,214.0 L222.0,211.5 L225.0,209.0 L228.0,206.5 L231.0,203.9 L234.0,201.0 L237.0,198.2 L240.0,195.5 L243.0,192.9 L246.0,190.3 L249.0,187.9 L252.0,185.5 L255.0,183.2 L258.0,180.9 L261.0,178.6 L264.0,176.3 L267.0,173.9 L270.0,171.5 L273.0,169.3 L276.0,166.9 L279.0,164.6 L282.0,162.1 L285.0,159.6 L288.0,157.0 L291.0,154.4 L294.0,151.8 L297.0,149.1 L300.0,146.5 L303.0,143.8 L306.0,141.3 L309.0,138.7 L312.0,136.5 L315.0,134.6 L318.0,132.8 L321.0,131.1 L324.0,129.5 L327.0,127.9 L330.0,126.4 L333.0,124.3 L336.0,122.3 L339.0,120.4 L342.0,118.5 L345.0,116.6 L348.0,114.6 L351.0,112.7 L354.0,111.0 L357.0,109.3 L360.0,107.5 L363.0,105.7 L366.0,103.9 L369.0,102.1 L372.0,100.3 L375.0,98.5 L378.0,96.7 L381.0,95.0 L384.0,93.2 L387.0,91.6 L390.0,90.0 L393.0,89.2 L396.0,88.4 L399.0,87.6 L402.0,86.9 L405.0,86.2 L408.0,85.5 L411.0,84.8 L414.0,84.3 L417.0,83.7 L420.0,83.1 L423.0,82.5 L426.0,81.8 L429.0,81.1 L432.0,80.5 L435.0,79.9 L438.0,79.3 L441.0,78.6 L444.0,77.9 L447.0,77.3 L450.0,76.7 L453.0,76.1 L456.0,75.5 L459.0,75.7 L462.0,76.0 L465.0,76.2 L468.0,76.5 L471.0,76.9 L474.0,77.3 L477.0,77.7 L480.0,78.2 L483.0,79.2 L486.0,80.3 L489.0,81.3 L492.0,82.4 L495.0,83.4 L498.0,84.4 L501.0,85.6 L504.0,87.2 L507.0,88.7 L510.0,90.1 L513.0,91.6 L516.0,93.0 L519.0,94.4 L522.0,95.9 L525.0,97.6 L528.0,99.3 L531.0,101.0 L534.0,102.8 L537.0,105.2 L540.0,107.8 L543.0,110.6 L546.0,113.4 L549.0,116.7 L552.0,120.1 L555.0,123.6 L558.0,127.7 L561.0,132.2 L564.0,136.7 L567.0,142.3 L570.0,148.4 L573.0,154.5 L576.0,160.4 L579.0,165.8 L582.0,171.2 L585.0,176.4 L588.0,181.6 L591.0,186.8 L594.0,191.9 L597.0,196.3 L600.0,200.4 L603.0,204.5 L605.5,207.2" stroke-opacity="0.25"/>
<path d="M66.0,210.0 L69.0,212.5 L72.0,214.9 L75.0,217.4 L78.0,219.9 L81.0,222.4 L84.0,224.8 L87.0,227.1 L90.0,229.2 L93.0,231.3 L96.0,233.5 L99.0,235.7 L102.0,237.2 L105.0,238.5 L108.0,239.8 L111.0,241.2 L114.0,242.7 L117.0,244.2 L120.0,245.7 L123.0,247.1 L126.0,248.5 L129.0,249.9 L132.0,250.5 L135.0,250.6 L138.0,250.7 L141.0,250.7 L144.0,250.7 L147.0,250.6 L150.0,250.4 L153.0,249.5 L156.0,248.5 L159.0,247.6 L162.0,246.8 L165.0,246.0 L168.0,245.3 L171.0,244.4 L174.0,243.2 L177.0,241.9 L180.0,240.7 L183.0,239.3 L186.0,237.9 L189.0,236.4 L192.0,234.2 L195.0,231.5 L198.0,228.7 L201.0,225.8 L204.0,222.9 L207.0,220.0 L210.0,217.1 L213.0,214.5 L216.0,211.9 L219.0,209.5 L222.0,207.2 L225.0,205.0 L228.0,202.9 L231.0,200.9 L234.0,198.6 L237.0,196.4 L240.0,194.2 L243.0,191.8 L246.0,189.5 L249.0,187.0 L252.0,184.5 L255.0,181.8 L258.0,179.0 L261.0,176.1 L264.0,173.2 L267.0,170.4 L270.0,167.5 L273.0,164.7 L276.0,162.1 L279.0,159.6 L282.0,157.2 L285.0,155.0 L288.0,152.9 L291.0,150.9 L294.0,149.0 L297.0,147.2 L300.0,145.2 L303.0,143.2 L306.0,141.1 L309.0,138.8 L312.0,136.8 L315.0,134.8 L318.0,132.8 L321.0,130.7 L324.0,128.6 L327.0,126.5 L330.0,124.5 L333.0,122.1 L336.0,119.8 L339.0,117.9 L342.0,116.2 L345.0,114.5 L348.0,112.9 L351.0,111.4 L354.0,110.1 L357.0,108.9 L360.0,107.5 L363.0,106.2 L366.0,104.7 L369.0,103.2 L372.0,101.5 L375.0,99.8 L378.0,98.0 L381.0,96.1 L384.0,94.3 L387.0,92.5 L390.0,90.8 L393.0,89.9 L396.0,89.1 L399.0,88.3 L402.0,87.7 L405.0,87.1 L408.0,86.5 L411.0,86.1 L414.0,85.7 L417.0,85.2 L420.0,84.8 L423.0,84.2 L426.0,83.6 L429.0,82.9 L432.0,82.2 L435.0,81.6 L438.0,80.8 L441.0,80.1 L444.0,79.4 L447.0,78.7 L450.0,78.1 L453.0,77.6 L456.0,77.2 L459.0,77.6 L462.0,78.0 L465.0,78.5 L468.0,79.1 L471.0,79.6 L474.0,80.2 L477.0,80.7 L480.0,81.0 L483.0,81.9 L486.0,82.8 L489.0,83.7 L492.0,84.6 L495.0,85.5 L498.0,86.3 L501.0,87.2 L504.0,88.5 L507.0,89.9 L510.0,91.3 L513.0,92.8 L516.0,94.4 L519.0,96.0 L522.0,97.9 L525.0,99.9 L528.0,101.8 L531.0,103.6 L534.0,105.4 L537.0,107.8 L540.0,110.6 L543.0,113.3 L546.0,116.1 L549.0,119.2 L552.0,122.6 L555.0,125.9 L558.0,129.9 L561.0,134.2 L564.0,138.2 L567.0,143.3 L570.0,149.1 L573.0,154.9 L576.0,160.8 L579.0,166.3 L582.0,172.0 L585.0,177.8 L588.0,183.4 L591.0,188.8 L594.0,194.2 L597.0,198.8 L600.0,203.0 L603.0,207.2 L605.5,210.0" stroke-opacity="0.25"/>
<path d="M66.0,210.0 L69.0,212.5 L72.0,214.9 L75.0,217.3 L78.0,219.7 L81.0,222.2 L84.0,224.7 L87.0,227.3 L90.0,229.8 L93.0,232.2 L96.0,234.7 L99.0,237.2 L102.0,238.9 L105.0,240.2 L108.0,241.5 L111.0,242.8 L114.0,244.1 L117.0,245.4 L120.0,246.7 L123.0,248.0 L126.0,249.3 L129.0,250.6 L132.0,251.2 L135.0,251.5 L138.0,251.8 L141.0,252.1 L144.0,252.4 L147.0,252.7 L150.0,253.0 L153.0,252.1 L156.0,251.2 L159.0,250.4 L162.0,249.6 L165.0,248.9 L168.0,248.3 L171.0,247.6 L174.0,246.4 L177.0,245.3 L180.0,244.3 L183.0,243.2 L186.0,241.8 L189.0,240.4 L192.0,238.4 L195.0,236.0 L198.0,233.6 L201.0,231.2 L204.0,228.8 L207.0,226.4 L210.0,224.0 L213.0,221.9 L216.0,219.2 L219.0,216.4 L222.0,213.5 L225.0,210.5 L228.0,207.6 L231.0,204.6 L234.0,201.3 L237.0,198.2 L240.0,195.2 L243.0,192.3 L246.0,189.6 L249.0,187.1 L252.0,184.7 L255.0,182.5 L258.0,180.3 L261.0,178.1 L264.0,176.0 L267.0,173.9 L270.0,171.7 L273.0,169.7 L276.0,167.5 L279.0,165.3 L282.0,163.0 L285.0,160.5 L288.0,157.9 L291.0,155.2 L294.0,152.3 L297.0,149.4 L300.0,146.4 L303.0,143.3 L306.0,140.3 L309.0,137.3 L312.0,134.6 L315.0,132.2 L318.0,129.8 L321.0,127.6 L324.0,125.6 L327.0,123.8 L330.0,122.1 L333.0,120.0 L336.0,118.1 L339.0,116.6 L342.0,115.1 L345.0,113.6 L348.0,112.1 L351.0,110.6 L354.0,109.3 L357.0,107.9 L360.0,106.4 L363.0,104.9 L366.0,103.2 L369.0,101.6 L372.0,99.9 L375.0,98.0 L378.0,96.1 L381.0,94.2 L384.0,92.2 L387.0,90.3 L390.0,88.5 L393.0,87.3 L396.0,86.1 L399.0,85.1 L402.0,84.1 L405.0,83.2 L408.0,82.4 L411.0,81.7 L414.0,81.1 L417.0,80.7 L420.0,80.3 L423.0,79.9 L426.0,79.6 L429.0,79.2 L432.0,79.0 L435.0,78.8 L438.0,78.6 L441.0,78.3 L444.0,77.9 L447.0,77.5 L450.0,77.1 L453.0,76.6 L456.0,76.0 L459.0,76.1 L462.0,76.2 L465.0,76.3 L468.0,76.3 L471.0,76.3 L474.0,76.4 L477.0,76.6 L480.0,76.8 L483.0,77.6 L486.0,78.4 L489.0,79.4 L492.0,80.4 L495.0,81.5 L498.0,82.6 L501.0,84.1 L504.0,85.9 L507.0,87.8 L510.0,89.8 L513.0,91.7 L516.0,93.6 L519.0,95.5 L522.0,97.5 L525.0,99.6 L528.0,101.6 L531.0,103.5 L534.0,105.4 L537.0,107.8 L540.0,110.4 L543.0,113.0 L546.0,115.5 L549.0,118.4 L552.0,121.4 L555.0,124.4 L558.0,128.1 L561.0,132.2 L564.0,136.3 L567.0,141.5 L570.0,147.4 L573.0,153.4 L576.0,159.5 L579.0,165.3 L582.0,171.4 L585.0,177.5 L588.0,183.4 L591.0,188.8 L594.0,194.2 L597.0,198.8 L600.0,203.0 L603.0,207.2 L605.5,210.0" stroke-opacity="0.25"/>
<path d="M66.0,204.1 L69.0,207.0 L72.0,209.8 L75.0,212.7 L78.0,215.5 L81.0,218.2 L84.0,220.9 L87.0,223.4 L90.0,225.9 L93.0,228.3 L96.0,230.7 L99.0,232.9 L102.0,234.4 L105.0,235.5 L108.0,236.5 L111.0,237.6 L114.0,238.8 L117.0,240.0 L120.0,241.2 L123.0,242.6 L126.0,243.9 L129.0,245.3 L132.0,246.3 L135.0,247.0 L138.0,247.7 L141.0,248.4 L144.0,249.0 L147.0,249.7 L150.0,250.3 L153.0,250.0 L156.0,249.6 L159.0,249.1 L162.0,248.6 L165.0,247.9 L168.0,247.2 L171.0,246.1 L174.0,244.6 L177.0,242.9 L180.0,241.3 L183.0,239.6 L186.0,237.9 L189.0,236.3 L192.0,234.2 L195.0,231.9 L198.0,229.7 L201.0,227.6 L204.0,225.6 L207.0,223.7 L210.0,221.9 L213.0,220.3 L216.0,218.8 L219.0,217.2 L222.0,215.6 L225.0,213.5 L228.0,211.4 L231.0,209.2 L234.0,206.6 L237.0,204.1 L240.0,201.5 L243.0,198.9 L246.0,196.4 L249.0,193.5 L252.0,190.6 L255.0,187.7 L258.0,184.9 L261.0,182.1 L264.0,179.5 L267.0,176.9 L270.0,174.5 L273.0,172.4 L276.0,170.4 L279.0,168.4 L282.0,166.6 L285.0,164.7 L288.0,162.5 L291.0,160.2 L294.0,157.8 L297.0,155.4 L300.0,153.0 L303.0,150.6 L306.0,148.2 L309.0,145.8 L312.0,143.9 L315.0,142.0 L318.0,139.8 L321.0,137.6 L324.0,135.4 L327.0,133.1 L330.0,131.0 L333.0,128.2 L336.0,125.6 L339.0,123.2 L342.0,120.9 L345.0,118.7 L348.0,116.6 L351.0,114.7 L354.0,113.3 L357.0,111.8 L360.0,110.4 L363.0,108.9 L366.0,107.3 L369.0,105.8 L372.0,104.0 L375.0,102.1 L378.0,100.2 L381.0,98.2 L384.0,96.1 L387.0,94.1 L390.0,92.0 L393.0,90.8 L396.0,89.5 L399.0,88.3 L402.0,87.2 L405.0,86.1 L408.0,85.1 L411.0,84.2 L414.0,83.5 L417.0,82.8 L420.0,82.2 L423.0,81.6 L426.0,81.1 L429.0,80.6 L432.0,80.2 L435.0,79.8 L438.0,79.3 L441.0,78.8 L444.0,78.3 L447.0,77.7 L450.0,77.1 L453.0,76.5 L456.0,75.8 L459.0,75.8 L462.0,75.8 L465.0,75.9 L468.0,75.9 L471.0,76.0 L474.0,76.1 L477.0,76.4 L480.0,76.7 L483.0,77.6 L486.0,78.6 L489.0,79.6 L492.0,80.7 L495.0,81.8 L498.0,83.0 L501.0,84.4 L504.0,86.2 L507.0,87.9 L510.0,89.6 L513.0,91.3 L516.0,92.9 L519.0,94.4 L522.0,96.1 L525.0,97.8 L528.0,99.5 L531.0,101.2 L534.0,102.8 L537.0,105.0 L540.0,107.5 L543.0,110.0 L546.0,112.7 L549.0,115.7 L552.0,119.0 L555.0,122.4 L558.0,126.5 L561.0,131.1 L564.0,135.7 L567.0,141.4 L570.0,147.8 L573.0,154.3 L576.0,160.6 L579.0,166.5 L582.0,172.4 L585.0,178.0 L588.0,183.4 L591.0,188.8 L594.0,194.2 L597.0,198.8 L600.0,202.9 L603.0,206.8 L605.5,209.3" stroke-opacity="0.26"/>
<path d="M66.0,210.0 L69.0,211.9 L72.0,213.7 L75.0,215.6 L78.0,217.6 L81.0,219.6 L84.0,221.7 L87.0,224.0 L90.0,226.3 L93.0,228.8 L96.0,231.3 L99.0,233.9 L102.0,235.7 L105.0,237.2 L108.0,238.6 L111.0,239.9 L114.0,241.2 L117.0,242.4 L120.0,243.5 L123.0,244.5 L126.0,245.3 L129.0,246.1 L132.0,246.3 L135.0,246.3 L138.0,246.2 L141.0,246.1 L144.0,246.1 L147.0,246.3 L150.0,246.4 L153.0,245.8 L156.0,245.3 L159.0,244.9 L162.0,244.6 L165.0,244.1 L168.0,243.7 L171.0,243.2 L174.0,242.1 L177.0,240.9 L180.0,239.6 L183.0,238.2 L186.0,236.6 L189.0,234.9 L192.0,232.6 L195.0,230.0 L198.0,227.3 L201.0,224.7 L204.0,222.2 L207.0,219.8 L210.0,217.6 L213.0,215.7 L216.0,214.1 L219.0,212.5 L222.0,211.1 L225.0,209.8 L228.0,208.5 L231.0,207.1 L234.0,205.4 L237.0,203.6 L240.0,201.5 L243.0,198.9 L246.0,196.4 L249.0,193.8 L252.0,191.3 L255.0,188.8 L258.0,186.2 L261.0,183.7 L264.0,181.1 L267.0,178.5 L270.0,175.8 L273.0,173.6 L276.0,171.4 L279.0,169.2 L282.0,167.0 L285.0,164.8 L288.0,162.5 L291.0,160.2 L294.0,157.8 L297.0,155.4 L300.0,153.0 L303.0,150.6 L306.0,148.2 L309.0,145.8 L312.0,143.9 L315.0,142.2 L318.0,140.6 L321.0,138.9 L324.0,137.3 L327.0,135.7 L330.0,133.6 L333.0,130.6 L336.0,127.8 L339.0,125.1 L342.0,122.6 L345.0,120.2 L348.0,117.9 L351.0,115.9 L354.0,114.4 L357.0,112.9 L360.0,111.3 L363.0,109.7 L366.0,108.0 L369.0,106.2 L372.0,104.2 L375.0,102.1 L378.0,99.9 L381.0,97.7 L384.0,95.4 L387.0,93.2 L390.0,91.1 L393.0,89.7 L396.0,88.5 L399.0,87.3 L402.0,86.2 L405.0,85.3 L408.0,84.4 L411.0,83.7 L414.0,83.1 L417.0,82.6 L420.0,82.1 L423.0,81.6 L426.0,81.0 L429.0,80.4 L432.0,79.9 L435.0,79.3 L438.0,78.6 L441.0,77.9 L444.0,77.1 L447.0,76.4 L450.0,75.7 L453.0,75.0 L456.0,74.4 L459.0,74.5 L462.0,74.8 L465.0,75.1 L468.0,75.4 L471.0,75.9 L474.0,76.6 L477.0,77.2 L480.0,77.9 L483.0,79.2 L486.0,80.5 L489.0,81.8 L492.0,83.0 L495.0,84.2 L498.0,85.3 L501.0,86.5 L504.0,88.1 L507.0,89.5 L510.0,91.0 L513.0,92.4 L516.0,93.8 L519.0,95.2 L522.0,96.8 L525.0,98.6 L528.0,100.6 L531.0,102.6 L534.0,104.6 L537.0,107.4 L540.0,110.6 L543.0,113.3 L546.0,116.1 L549.0,119.2 L552.0,122.6 L555.0,125.9 L558.0,129.9 L561.0,134.2 L564.0,138.6 L567.0,144.0 L570.0,150.0 L573.0,156.0 L576.0,161.8 L579.0,167.2 L582.0,172.6 L585.0,178.0 L588.0,183.4 L591.0,188.8 L594.0,194.1 L597.0,198.7 L600.0,203.0 L603.0,207.2 L605.5,210.0" stroke-opacity="0.26"/>
<path d="M66.0,206.0 L69.0,208.7 L72.0,211.4 L75.0,214.1 L78.0,216.7 L81.0,219.3 L84.0,221.7 L87.0,224.1 L90.0,226.3 L93.0,228.6 L96.0,230.8 L99.0,233.0 L102.0,234.5 L105.0,235.7 L108.0,236.9 L111.0,238.3 L114.0,239.7 L117.0,241.1 L120.0,242.7 L123.0,244.2 L126.0,245.7 L129.0,247.2 L132.0,248.0 L135.0,248.5 L138.0,248.9 L141.0,249.2 L144.0,249.4 L147.0,249.5 L150.0,249.6 L153.0,248.7 L156.0,247.9 L159.0,247.1 L162.0,246.4 L165.0,245.6 L168.0,244.8 L171.0,244.0 L174.0,242.8 L177.0,241.6 L180.0,240.5 L183.0,239.3 L186.0,238.2 L189.0,237.0 L192.0,235.1 L195.0,232.8 L198.0,230.4 L201.0,227.9 L204.0,225.3 L207.0,222.7 L210.0,220.1 L213.0,217.8 L216.0,215.5 L219.0,213.3 L222.0,211.1 L225.0,209.1 L228.0,207.2 L231.0,205.3 L234.0,203.1 L237.0,201.0 L240.0,198.9 L243.0,196.8 L246.0,194.6 L249.0,192.3 L252.0,189.9 L255.0,187.4 L258.0,184.8 L261.0,182.1 L264.0,179.3 L267.0,176.6 L270.0,173.9 L273.0,171.4 L276.0,169.1 L279.0,166.8 L282.0,164.7 L285.0,162.7 L288.0,160.7 L291.0,158.8 L294.0,156.9 L297.0,154.9 L300.0,152.9 L303.0,150.6 L306.0,148.2 L309.0,145.8 L312.0,143.9 L315.0,142.2 L318.0,140.6 L321.0,138.7 L324.0,136.7 L327.0,134.8 L330.0,133.0 L333.0,130.5 L336.0,128.1 L339.0,125.9 L342.0,123.8 L345.0,121.6 L348.0,119.6 L351.0,117.5 L354.0,115.8 L357.0,114.2 L360.0,112.5 L363.0,110.8 L366.0,109.2 L369.0,107.5 L372.0,105.8 L375.0,104.0 L378.0,102.2 L381.0,100.3 L384.0,98.3 L387.0,96.3 L390.0,94.5 L393.0,93.6 L396.0,92.7 L399.0,91.9 L402.0,91.2 L405.0,90.4 L408.0,89.6 L411.0,88.8 L414.0,88.0 L417.0,87.2 L420.0,86.5 L423.0,85.8 L426.0,85.0 L429.0,84.2 L432.0,83.4 L435.0,82.6 L438.0,81.8 L441.0,81.0 L444.0,80.3 L447.0,79.6 L450.0,79.0 L453.0,78.5 L456.0,78.0 L459.0,78.4 L462.0,78.7 L465.0,79.1 L468.0,79.5 L471.0,79.8 L474.0,80.1 L477.0,80.3 L480.0,80.4 L483.0,81.2 L486.0,81.9 L489.0,82.5 L492.0,83.2 L495.0,83.9 L498.0,84.5 L501.0,85.5 L504.0,86.8 L507.0,88.3 L510.0,89.8 L513.0,91.3 L516.0,92.9 L519.0,94.5 L522.0,96.3 L525.0,98.2 L528.0,100.1 L531.0,101.9 L534.0,103.7 L537.0,105.9 L540.0,108.4 L543.0,110.9 L546.0,113.3 L549.0,116.1 L552.0,119.0 L555.0,122.0 L558.0,125.7 L561.0,129.7 L564.0,133.8 L567.0,138.9 L570.0,144.7 L573.0,150.6 L576.0,156.3 L579.0,161.8 L582.0,167.3 L585.0,172.7 L588.0,177.9 L591.0,183.1 L594.0,188.3 L597.0,192.8 L600.0,196.9 L603.0,200.9 L605.5,203.6" stroke-opacity="0.26"/>
<path d="M66.0,206.3 L69.0,208.7 L72.0,211.1 L75.0,213.5 L78.0,216.0 L81.0,218.5 L84.0,221.0 L87.0,223.7 L90.0,226.4 L93.0,229.2 L96.0,232.1 L99.0,235.0 L102.0,237.3 L105.0,239.1 L108.0,241.0 L111.0,242.8 L114.0,244.1 L117.0,245.4 L120.0,246.7 L123.0,248.0 L126.0,249.3 L129.0,250.6 L132.0,251.2 L135.0,251.5 L138.0,251.8 L141.0,252.1 L144.0,252.4 L147.0,252.7 L150.0,253.0 L153.0,252.4 L156.0,251.8 L159.0,251.2 L162.0,250.6 L165.0,250.0 L168.0,249.4 L171.0,248.6 L174.0,247.2 L177.0,245.8 L180.0,244.5 L183.0,243.2 L186.0,241.8 L189.0,240.4 L192.0,238.4 L195.0,236.0 L198.0,233.6 L201.0,231.2 L204.0,228.8 L207.0,226.4 L210.0,224.0 L213.0,221.9 L216.0,219.8 L219.0,217.7 L222.0,214.9 L225.0,212.1 L228.0,209.5 L231.0,206.8 L234.0,203.9 L237.0,201.1 L240.0,198.4 L243.0,195.8 L246.0,193.3 L249.0,190.9 L252.0,188.5 L255.0,186.0 L258.0,183.6 L261.0,181.0 L264.0,178.4 L267.0,175.7 L270.0,172.9 L273.0,170.2 L276.0,167.4 L279.0,164.5 L282.0,161.6 L285.0,158.6 L288.0,155.7 L291.0,152.7 L294.0,149.9 L297.0,147.3 L300.0,144.7 L303.0,142.3 L306.0,140.0 L309.0,137.9 L312.0,136.1 L315.0,134.7 L318.0,133.4 L321.0,132.2 L324.0,131.1 L327.0,130.0 L330.0,128.8 L333.0,127.0 L336.0,125.0 L339.0,123.1 L342.0,121.0 L345.0,118.9 L348.0,116.7 L351.0,114.6 L354.0,112.8 L357.0,111.1 L360.0,109.3 L363.0,107.6 L366.0,106.0 L369.0,104.4 L372.0,102.9 L375.0,101.5 L378.0,100.1 L381.0,98.7 L384.0,97.4 L387.0,96.1 L390.0,94.8 L393.0,94.1 L396.0,93.2 L399.0,92.3 L402.0,91.4 L405.0,90.5 L408.0,89.6 L411.0,88.8 L414.0,88.0 L417.0,87.2 L420.0,86.5 L423.0,85.8 L426.0,85.0 L429.0,84.2 L432.0,83.6 L435.0,83.0 L438.0,82.5 L441.0,81.9 L444.0,81.3 L447.0,80.7 L450.0,80.2 L453.0,79.6 L456.0,79.0 L459.0,79.2 L462.0,79.5 L465.0,79.8 L468.0,80.0 L471.0,80.2 L474.0,80.5 L477.0,80.8 L480.0,81.0 L483.0,81.9 L486.0,82.8 L489.0,83.7 L492.0,84.6 L495.0,85.5 L498.0,86.4 L501.0,87.3 L504.0,88.4 L507.0,89.4 L510.0,90.6 L513.0,91.7 L516.0,92.9 L519.0,94.2 L522.0,95.7 L525.0,97.4 L528.0,99.2 L531.0,101.0 L534.0,102.9 L537.0,105.3 L540.0,108.1 L543.0,110.8 L546.0,113.5 L549.0,116.6 L552.0,119.7 L555.0,122.8 L558.0,126.4 L561.0,130.3 L564.0,134.0 L567.0,138.6 L570.0,143.6 L573.0,148.7 L576.0,153.5 L579.0,158.1 L582.0,162.7 L585.0,167.6 L588.0,172.5 L591.0,177.7 L594.0,183.5 L597.0,188.9 L600.0,194.1 L603.0,199.3 L605.5,203.0" stroke-opacity="0.26"/>
<path d="M380,76 C410,68 440,60 456,57 C470,60 490,66 515,76" stroke-opacity="0.18"/>
</g>
<path d="M65.8,222.2 C67.0,223.4 71.1,227.3 73.2,229.3 C75.3,231.3 76.7,232.7 78.5,234.2 C80.3,235.7 81.9,236.9 83.9,238.2 C86.0,239.5 88.6,241.0 90.8,242.0 C93.0,243.0 95.0,243.6 96.9,244.3 C98.8,245.0 100.0,245.1 102.2,246.2 C104.4,247.3 107.7,249.6 110.0,250.7 C112.3,251.8 114.1,251.9 116.1,252.5 C118.1,253.1 120.2,253.7 122.2,254.1 C124.2,254.5 126.3,254.8 128.3,255.0 C130.3,255.2 132.4,255.5 134.4,255.6 C136.4,255.7 138.6,255.8 140.6,255.8 C142.6,255.8 144.7,255.7 146.7,255.6 C148.7,255.5 150.6,255.3 152.8,255.0 C155.0,254.7 157.5,254.4 160.0,253.6 C162.5,252.8 165.3,251.3 168.0,250.2 C170.7,249.1 173.4,248.1 176.0,247.0 C178.6,245.9 181.1,245.2 183.4,243.8 C185.7,242.4 187.6,240.5 189.8,238.8 C192.0,237.1 193.5,236.1 196.5,233.7 C199.5,231.3 205.1,226.4 208.0,224.3 C210.9,222.2 211.9,222.3 214.2,221.0 C216.5,219.7 219.2,217.7 221.8,216.3 C224.4,214.9 226.9,213.9 229.5,212.6 C232.1,211.3 234.8,209.7 237.1,208.3 C239.4,207.0 241.2,206.0 243.2,204.5 C245.2,203.0 247.3,200.8 249.3,199.1 C251.3,197.4 253.1,196.2 255.0,194.5 C256.9,192.8 258.5,190.6 260.7,188.9 C262.9,187.2 266.0,185.7 268.3,184.3 C270.6,182.9 272.3,181.9 274.5,180.5 C276.7,179.1 279.0,177.4 281.3,175.9 C283.6,174.4 285.9,172.8 288.2,171.3 C290.5,169.8 293.1,168.2 295.1,166.8 C297.1,165.4 296.4,165.1 300.0,162.9 C303.6,160.8 312.4,156.0 316.4,153.9 C320.4,151.8 321.6,151.4 324.1,150.1 C326.7,148.8 329.2,147.6 331.7,146.3 C334.2,145.0 337.1,143.6 339.3,142.5 C341.5,141.4 343.1,140.9 345.0,139.6 C346.9,138.3 348.7,136.4 350.7,134.7 C352.7,133.0 354.8,130.9 356.8,129.3 C358.8,127.7 360.7,126.4 362.9,125.1 C365.1,123.8 367.5,123.0 369.8,121.7 C372.1,120.4 374.3,118.6 376.7,117.4 C379.1,116.2 382.4,115.0 384.3,114.4 C386.2,113.8 386.4,113.9 388.0,113.6 C389.6,113.3 392.1,113.0 394.2,112.4 C396.2,111.8 398.3,111.1 400.3,110.1 C402.3,109.1 404.1,107.6 406.4,106.3 C408.7,105.0 411.6,103.7 414.1,102.5 C416.7,101.3 419.2,100.6 421.7,99.4 C424.2,98.2 427.1,96.8 429.3,95.6 C431.5,94.4 432.5,92.7 434.6,92.0 C436.8,91.3 439.4,91.6 442.2,91.7 C445.0,91.8 448.6,92.1 451.4,92.5 C454.2,92.9 456.7,93.5 459.1,94.0 C461.5,94.5 463.4,95.6 465.9,95.5 C468.4,95.4 471.5,93.5 474.3,93.5 C477.1,93.5 480.1,94.6 482.6,95.6 C485.1,96.6 487.1,98.5 489.5,99.4 C491.9,100.3 494.6,100.4 497.2,100.9 C499.8,101.4 502.1,102.1 504.8,102.5 C507.5,102.9 510.7,102.8 513.2,103.5 C515.8,104.2 518.0,106.1 520.1,107.0 C522.2,107.9 523.8,108.3 526.1,109.1 C528.4,109.8 531.4,110.2 533.7,111.5 C536.0,112.8 537.9,115.1 539.8,117.0 C541.7,118.9 543.5,121.2 545.3,123.1 C547.1,125.0 549.3,126.8 550.8,128.6 C552.3,130.4 553.0,131.6 554.5,134.1 C556.0,136.6 558.4,140.6 560.0,143.4 C561.6,146.2 562.6,147.8 564.3,151.0 C566.0,154.2 568.1,159.4 570.1,162.8 C572.1,166.2 574.0,168.5 576.0,171.2 C578.0,173.8 580.2,176.7 581.9,178.7 C583.6,180.7 584.5,181.6 586.1,183.4 C587.7,185.2 589.6,187.6 591.5,189.5 C593.4,191.4 595.7,193.0 597.6,194.9 C599.5,196.8 601.8,199.7 602.9,201.0 C604.0,202.3 604.0,202.2 604.2,202.5" fill="none" stroke="#f7757d" stroke-width="1.5" stroke-dasharray="3.9,3.95"/>
<path d="M65.8,211.0 C67.0,212.5 71.0,217.4 73.2,219.9 C75.5,222.4 77.0,224.1 79.3,226.0 C81.6,227.9 84.4,229.7 86.9,231.3 C89.5,232.9 92.0,234.1 94.6,235.5 C97.1,236.9 99.6,238.4 102.2,239.8 C104.8,241.2 107.7,242.7 110.0,243.9 C112.3,245.1 114.1,246.1 116.1,247.0 C118.1,247.9 120.2,248.7 122.2,249.4 C124.2,250.1 126.3,250.7 128.3,251.3 C130.3,251.9 132.4,252.5 134.4,252.9 C136.4,253.3 138.6,253.5 140.6,253.7 C142.6,253.9 144.7,254.0 146.7,254.0 C148.7,254.0 150.6,253.8 152.8,253.5 C155.0,253.2 158.0,252.6 160.0,252.1 C162.0,251.6 162.2,251.3 165.0,250.5 C167.8,249.7 172.9,249.1 177.0,247.4 C181.1,245.7 186.2,242.7 189.5,240.5 C192.8,238.3 194.4,236.9 197.0,234.5 C199.6,232.1 202.4,228.3 205.0,225.9 C207.6,223.5 210.0,222.0 212.6,220.1 C215.2,218.2 217.8,216.4 220.3,214.4 C222.9,212.4 225.4,210.5 227.9,208.3 C230.4,206.1 233.1,203.6 235.6,201.4 C238.1,199.2 240.7,197.7 243.2,195.3 C245.7,192.9 248.1,189.6 250.5,187.0 C252.9,184.4 255.1,181.8 257.6,179.5 C260.1,177.2 262.8,174.8 265.3,172.9 C267.9,171.0 270.3,169.7 272.9,168.3 C275.4,166.9 277.8,165.9 280.6,164.5 C283.4,163.1 287.2,161.6 289.8,159.9 C292.4,158.2 293.8,156.4 295.9,154.5 C298.0,152.6 300.2,150.3 302.6,148.6 C305.0,146.8 307.8,145.5 310.3,144.0 C312.9,142.5 315.9,140.4 317.9,139.4 C319.9,138.4 320.7,138.9 322.5,137.9 C324.3,136.9 326.3,135.2 328.6,133.3 C330.9,131.4 334.2,128.2 336.3,126.4 C338.4,124.6 339.0,123.8 340.9,122.6 C342.8,121.4 345.2,120.6 347.6,119.4 C350.0,118.2 352.8,117.1 355.3,115.6 C357.9,114.1 360.9,111.5 362.9,110.2 C364.9,108.9 365.8,108.2 367.5,107.6 C369.2,107.0 371.1,107.1 372.9,106.4 C374.7,105.7 376.3,104.7 378.2,103.3 C380.1,101.9 382.3,99.5 384.3,98.0 C386.3,96.5 388.6,95.3 390.0,94.5 C391.4,93.7 390.9,93.8 392.6,93.3 C394.3,92.8 397.8,92.4 400.3,91.8 C402.9,91.2 405.3,90.4 407.9,89.5 C410.4,88.6 413.1,87.2 415.6,86.4 C418.2,85.6 420.9,85.1 423.2,84.6 C425.5,84.1 426.9,83.9 429.3,83.3 C431.7,82.7 434.7,81.7 437.6,80.7 C440.5,79.8 443.7,78.1 446.8,77.6 C449.9,77.1 452.9,77.7 456.0,77.9 C459.1,78.1 462.4,78.3 465.2,78.7 C468.0,79.1 469.9,79.9 472.8,80.2 C475.7,80.5 479.7,80.2 482.6,80.6 C485.5,81.0 487.8,81.8 490.3,82.6 C492.9,83.4 495.3,84.6 497.9,85.6 C500.4,86.6 503.1,87.5 505.6,88.7 C508.2,89.9 510.9,91.2 513.2,92.5 C515.5,93.8 516.9,94.8 519.3,96.3 C521.7,97.8 524.8,100.1 527.6,101.5 C530.4,102.9 533.9,103.8 536.1,104.8 C538.3,105.8 539.4,106.1 541.0,107.2 C542.6,108.3 544.3,109.8 545.9,111.5 C547.5,113.2 549.2,115.6 550.8,117.6 C552.4,119.6 554.1,121.5 555.7,123.7 C557.3,125.9 559.3,128.4 560.6,130.5 C561.9,132.6 562.4,134.2 563.5,136.0 C564.6,137.8 565.6,138.8 567.0,141.0 C568.4,143.2 570.1,146.5 571.8,149.3 C573.4,152.1 575.5,155.0 576.9,157.7 C578.3,160.4 578.8,162.3 580.2,165.5 C581.6,168.7 583.8,173.4 585.3,177.0 C586.8,180.6 587.5,183.4 589.2,187.2 C590.9,190.9 593.5,195.9 595.3,199.5 C597.1,203.1 598.4,205.4 599.9,208.6 C601.4,211.8 603.7,216.9 604.5,218.6" fill="none" stroke="#f5a06a" stroke-width="1.3"/>
<path d="M65.8,207.3 C67.0,208.9 70.5,213.7 73.2,216.8 C76.0,219.9 80.0,223.6 82.3,226.0 C84.6,228.4 84.9,229.3 86.9,231.3 C89.0,233.3 92.0,236.3 94.6,238.2 C97.1,240.1 99.6,241.2 102.2,242.8 C104.8,244.4 107.7,246.4 110.0,247.6 C112.3,248.8 114.1,249.4 116.1,250.1 C118.1,250.8 120.2,251.2 122.2,251.7 C124.2,252.2 126.3,252.6 128.3,252.9 C130.3,253.2 132.4,253.5 134.4,253.7 C136.4,253.9 138.3,254.1 140.6,254.1 C142.8,254.1 146.7,253.5 147.9,253.4" fill="none" stroke="#3d6b9a" stroke-width="1.4"/>
<line x1="82.5" y1="182.2" x2="82.5" y2="226" stroke="#3d6b9a" stroke-opacity="0.55" stroke-width="1"/>
<line x1="115.5" y1="217.3" x2="115.5" y2="245.5" stroke="#f59e68" stroke-opacity="0.6" stroke-width="1"/>
<text x="69.2" y="181.1" font-family="Liberation Sans, sans-serif" font-size="13" font-weight="bold" fill="#3b6896" textLength="28.8" lengthAdjust="spacingAndGlyphs">2024</text>
<text x="101.8" y="215.5" font-family="Liberation Sans, sans-serif" font-size="12.5" font-weight="bold" fill="#f5a16b" textLength="28.5" lengthAdjust="spacingAndGlyphs">2022</text>
<text x="135" y="269.9" font-family="Liberation Sans, sans-serif" font-size="13" font-weight="bold" fill="#f3707a" textLength="109" lengthAdjust="spacingAndGlyphs">2023 (record low)</text>
<text x="177.4" y="190.4" font-family="Liberation Sans, sans-serif" font-size="13" fill="#a6c6de" text-anchor="middle" textLength="51" lengthAdjust="spacingAndGlyphs">all other</text>
<text x="177.2" y="207.2" font-family="Liberation Sans, sans-serif" font-size="13" fill="#a6c6de" text-anchor="middle" textLength="33" lengthAdjust="spacingAndGlyphs">years</text>
<line x1="65" y1="276" x2="613" y2="276" stroke="#bdbdbd" stroke-width="1.6"/>
<line x1="65.5" y1="276" x2="65.5" y2="280.5" stroke="#bdbdbd" stroke-width="1.2"/>
<line x1="111.25" y1="276" x2="111.25" y2="280.5" stroke="#bdbdbd" stroke-width="1.2"/>
<line x1="154.5" y1="276" x2="154.5" y2="280.5" stroke="#bdbdbd" stroke-width="1.2"/>
<line x1="200.5" y1="276" x2="200.5" y2="280.5" stroke="#bdbdbd" stroke-width="1.2"/>
<line x1="244.5" y1="276" x2="244.5" y2="280.5" stroke="#bdbdbd" stroke-width="1.2"/>
<line x1="290.5" y1="276" x2="290.5" y2="280.5" stroke="#bdbdbd" stroke-width="1.2"/>
<line x1="334.5" y1="276" x2="334.5" y2="280.5" stroke="#bdbdbd" stroke-width="1.2"/>
<line x1="381.25" y1="276" x2="381.25" y2="280.5" stroke="#bdbdbd" stroke-width="1.2"/>
<line x1="427" y1="276" x2="427" y2="280.5" stroke="#bdbdbd" stroke-width="1.2"/>
<line x1="471.5" y1="276" x2="471.5" y2="280.5" stroke="#bdbdbd" stroke-width="1.2"/>
<line x1="517" y1="276" x2="517" y2="280.5" stroke="#bdbdbd" stroke-width="1.2"/>
<line x1="561" y1="276" x2="561" y2="280.5" stroke="#bdbdbd" stroke-width="1.2"/>
<line x1="606.5" y1="276" x2="606.5" y2="280.5" stroke="#bdbdbd" stroke-width="1.2"/>
<text x="86.1" y="292.7" font-family="Liberation Sans, sans-serif" font-size="13" fill="#555" text-anchor="middle">Jan</text>
<text x="130.9" y="292.7" font-family="Liberation Sans, sans-serif" font-size="13" fill="#555" text-anchor="middle">Feb</text>
<text x="175.0" y="292.7" font-family="Liberation Sans, sans-serif" font-size="13" fill="#555" text-anchor="middle">Mar</text>
<text x="220.4" y="292.7" font-family="Liberation Sans, sans-serif" font-size="13" fill="#555" text-anchor="middle">Apr</text>
<text x="265.4" y="292.7" font-family="Liberation Sans, sans-serif" font-size="13" fill="#555" text-anchor="middle">May</text>
<text x="311.6" y="292.7" font-family="Liberation Sans, sans-serif" font-size="13" fill="#555" text-anchor="middle">Jun</text>
<text x="355.6" y="292.7" font-family="Liberation Sans, sans-serif" font-size="13" fill="#555" text-anchor="middle">Jul</text>
<text x="404.5" y="292.7" font-family="Liberation Sans, sans-serif" font-size="13" fill="#555" text-anchor="middle">Aug</text>
<text x="447.6" y="292.7" font-family="Liberation Sans, sans-serif" font-size="13" fill="#555" text-anchor="middle">Sep</text>
<text x="494.1" y="292.7" font-family="Liberation Sans, sans-serif" font-size="13" fill="#555" text-anchor="middle">Oct</text>
<text x="538.3" y="292.7" font-family="Liberation Sans, sans-serif" font-size="13" fill="#555" text-anchor="middle">Nov</text>
<text x="582.2" y="292.7" font-family="Liberation Sans, sans-serif" font-size="13" fill="#555" text-anchor="middle">Dec</text>
<text x="519.2" y="312.7" font-family="Liberation Sans, sans-serif" font-size="10.3" fill="#c8c8c8" textLength="87" lengthAdjust="spacingAndGlyphs">NOAA Climate.gov</text>
<text x="519.2" y="325.2" font-family="Liberation Sans, sans-serif" font-size="10" fill="#c8c8c8" textLength="99.4" lengthAdjust="spacingAndGlyphs">Data: NSIDC Charctic</text>
</svg></body></html>
